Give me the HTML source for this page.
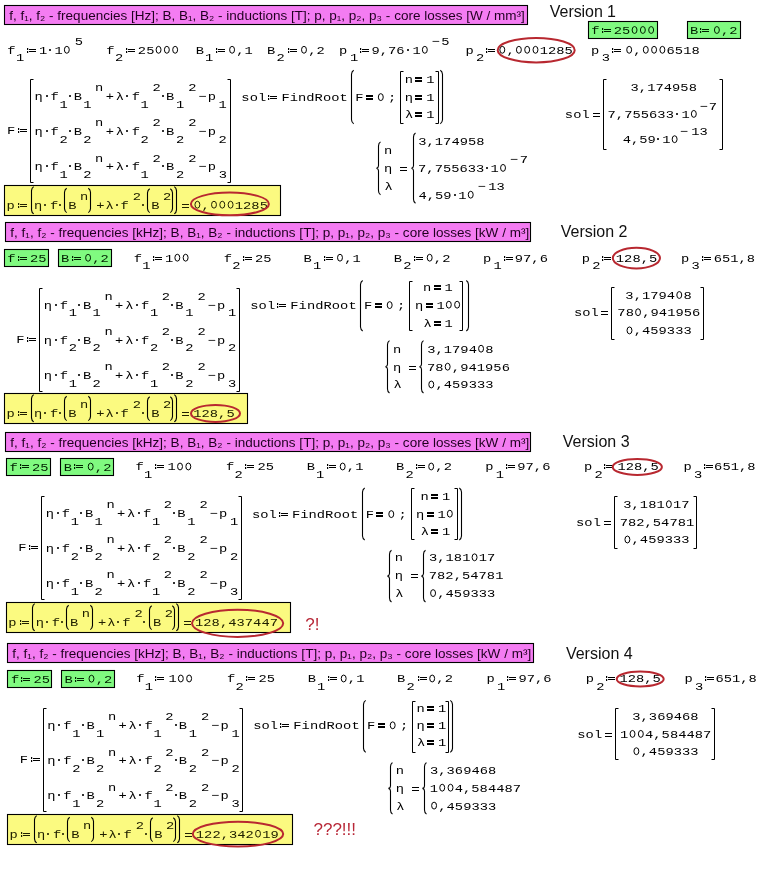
<!DOCTYPE html>
<html><head><meta charset="utf-8"><style>
html,body{margin:0;padding:0;background:#fff;width:761px;height:881px;overflow:hidden}
svg{display:block;will-change:transform}
.m{font-family:"Liberation Mono",monospace}
.s{font-family:"Liberation Sans",sans-serif}
</style></head><body>
<svg width="761" height="881" viewBox="0 0 761 881">
<rect width="761" height="881" fill="#fff"/>
<rect x="4.50" y="5.50" width="523.00" height="19.00" fill="#f47cf2" stroke="#000" stroke-width="1.10"/>
<text class="s" x="9.21" y="20.40" fill="#200020" font-size="13.50" textLength="515.5" lengthAdjust="spacing">f, f₁, f₂ - frequencies [Hz]; B, B₁, B₂ - inductions [T]; p, p₁, p₂, p₃ - core losses [W / mm³]</text>
<text class="s" x="549.83" y="16.60" fill="#111" font-size="16.00" textLength="66.2" lengthAdjust="spacing">Version 1</text>
<rect x="588.50" y="21.50" width="69.00" height="17.00" fill="#80fa80" stroke="#000" stroke-width="1.10"/>
<text class="m" transform="translate(0 33.90) scale(1 0.850)" x="591.27" y="0" fill="#002000" font-size="13.75" xml:space="preserve">f</text>
<rect x="602.00" y="28.00" width="1.20" height="2.00" fill="#002000"/>
<rect x="602.00" y="31.00" width="1.20" height="2.00" fill="#002000"/>
<rect x="604.00" y="29.00" width="7.00" height="1.00" fill="#002000"/>
<rect x="604.00" y="31.00" width="7.00" height="1.00" fill="#002000"/>
<text class="m" transform="translate(0 33.90) scale(1 0.850)" x="613.83 622.13 630.43 638.73 647.03" y="0" fill="#002000" font-size="13.75" xml:space="preserve">25   </text>
<ellipse cx="634.56" cy="30.00" rx="2.45" ry="3.45" fill="none" stroke="#002000" stroke-width="1.00"/>
<ellipse cx="642.86" cy="30.00" rx="2.45" ry="3.45" fill="none" stroke="#002000" stroke-width="1.00"/>
<ellipse cx="651.16" cy="30.00" rx="2.45" ry="3.45" fill="none" stroke="#002000" stroke-width="1.00"/>
<rect x="687.50" y="21.50" width="53.00" height="17.00" fill="#80fa80" stroke="#000" stroke-width="1.10"/>
<text class="m" transform="translate(0 33.90) scale(1 0.850)" x="689.91" y="0" fill="#002000" font-size="13.75" xml:space="preserve">B</text>
<rect x="700.00" y="28.00" width="1.20" height="2.00" fill="#002000"/>
<rect x="700.00" y="31.00" width="1.20" height="2.00" fill="#002000"/>
<rect x="702.00" y="29.00" width="7.00" height="1.00" fill="#002000"/>
<rect x="702.00" y="31.00" width="7.00" height="1.00" fill="#002000"/>
<text class="m" transform="translate(0 33.90) scale(1 0.850)" x="712.77 721.07 729.37" y="0" fill="#002000" font-size="13.75" xml:space="preserve"> ,2</text>
<ellipse cx="716.89" cy="30.00" rx="2.45" ry="3.45" fill="none" stroke="#002000" stroke-width="1.00"/>
<text class="m" transform="translate(0 53.70) scale(1 0.850)" x="7.17" y="0" fill="#000" font-size="13.75" xml:space="preserve">f</text>
<text class="m" transform="translate(0 61.40) scale(1 0.850)" x="16.01" y="0" fill="#000" font-size="13.75" xml:space="preserve">1</text>
<rect x="27.00" y="48.00" width="1.20" height="2.00" fill="#000"/>
<rect x="27.00" y="51.00" width="1.20" height="2.00" fill="#000"/>
<rect x="29.00" y="49.00" width="7.00" height="1.00" fill="#000"/>
<rect x="29.00" y="51.00" width="7.00" height="1.00" fill="#000"/>
<text class="m" transform="translate(0 53.70) scale(1 0.850)" x="39.01" y="0" fill="#000" font-size="13.75" xml:space="preserve">1</text>
<rect x="49" y="49" width="2" height="2" fill="#000" fill-opacity="0.8"/>
<text class="m" transform="translate(0 53.70) scale(1 0.850)" x="54.41 62.71" y="0" fill="#000" font-size="13.75" xml:space="preserve">1 </text>
<ellipse cx="66.83" cy="49.80" rx="2.45" ry="3.45" fill="none" stroke="#000" stroke-width="1.00"/>
<text class="m" transform="translate(0 45.00) scale(1 0.850)" x="74.64" y="0" fill="#000" font-size="13.75" xml:space="preserve">5</text>
<text class="m" transform="translate(0 53.70) scale(1 0.850)" x="106.37" y="0" fill="#000" font-size="13.75" xml:space="preserve">f</text>
<text class="m" transform="translate(0 61.40) scale(1 0.850)" x="114.93" y="0" fill="#000" font-size="13.75" xml:space="preserve">2</text>
<rect x="126.00" y="48.00" width="1.20" height="2.00" fill="#000"/>
<rect x="126.00" y="51.00" width="1.20" height="2.00" fill="#000"/>
<rect x="128.00" y="49.00" width="7.00" height="1.00" fill="#000"/>
<rect x="128.00" y="51.00" width="7.00" height="1.00" fill="#000"/>
<text class="m" transform="translate(0 53.70) scale(1 0.850)" x="137.83 146.13 154.43 162.73 171.03" y="0" fill="#000" font-size="13.75" xml:space="preserve">25   </text>
<ellipse cx="158.56" cy="49.80" rx="2.45" ry="3.45" fill="none" stroke="#000" stroke-width="1.00"/>
<ellipse cx="166.86" cy="49.80" rx="2.45" ry="3.45" fill="none" stroke="#000" stroke-width="1.00"/>
<ellipse cx="175.16" cy="49.80" rx="2.45" ry="3.45" fill="none" stroke="#000" stroke-width="1.00"/>
<text class="m" transform="translate(0 53.70) scale(1 0.850)" x="195.71" y="0" fill="#000" font-size="13.75" xml:space="preserve">B</text>
<text class="m" transform="translate(0 61.40) scale(1 0.850)" x="205.11" y="0" fill="#000" font-size="13.75" xml:space="preserve">1</text>
<rect x="216.00" y="48.00" width="1.20" height="2.00" fill="#000"/>
<rect x="216.00" y="51.00" width="1.20" height="2.00" fill="#000"/>
<rect x="218.00" y="49.00" width="7.00" height="1.00" fill="#000"/>
<rect x="218.00" y="51.00" width="7.00" height="1.00" fill="#000"/>
<text class="m" transform="translate(0 53.70) scale(1 0.850)" x="227.97 236.27 244.57" y="0" fill="#000" font-size="13.75" xml:space="preserve"> ,1</text>
<ellipse cx="232.09" cy="49.80" rx="2.45" ry="3.45" fill="none" stroke="#000" stroke-width="1.00"/>
<text class="m" transform="translate(0 53.70) scale(1 0.850)" x="267.11" y="0" fill="#000" font-size="13.75" xml:space="preserve">B</text>
<text class="m" transform="translate(0 61.40) scale(1 0.850)" x="276.53" y="0" fill="#000" font-size="13.75" xml:space="preserve">2</text>
<rect x="288.00" y="48.00" width="1.20" height="2.00" fill="#000"/>
<rect x="288.00" y="51.00" width="1.20" height="2.00" fill="#000"/>
<rect x="290.00" y="49.00" width="7.00" height="1.00" fill="#000"/>
<rect x="290.00" y="51.00" width="7.00" height="1.00" fill="#000"/>
<text class="m" transform="translate(0 53.70) scale(1 0.850)" x="299.87 308.17 316.47" y="0" fill="#000" font-size="13.75" xml:space="preserve"> ,2</text>
<ellipse cx="303.99" cy="49.80" rx="2.45" ry="3.45" fill="none" stroke="#000" stroke-width="1.00"/>
<text class="m" transform="translate(0 53.70) scale(1 0.850)" x="339.10" y="0" fill="#000" font-size="13.75" xml:space="preserve">p</text>
<text class="m" transform="translate(0 61.40) scale(1 0.850)" x="350.01" y="0" fill="#000" font-size="13.75" xml:space="preserve">1</text>
<rect x="360.00" y="48.00" width="1.20" height="2.00" fill="#000"/>
<rect x="360.00" y="51.00" width="1.20" height="2.00" fill="#000"/>
<rect x="362.00" y="49.00" width="7.00" height="1.00" fill="#000"/>
<rect x="362.00" y="51.00" width="7.00" height="1.00" fill="#000"/>
<text class="m" transform="translate(0 53.70) scale(1 0.850)" x="371.45 379.75 388.05 396.35" y="0" fill="#000" font-size="13.75" xml:space="preserve">9,76</text>
<rect x="407" y="49" width="2" height="2" fill="#000" fill-opacity="0.8"/>
<text class="m" transform="translate(0 53.70) scale(1 0.850)" x="412.41 420.71" y="0" fill="#000" font-size="13.75" xml:space="preserve">1 </text>
<ellipse cx="424.83" cy="49.80" rx="2.45" ry="3.45" fill="none" stroke="#000" stroke-width="1.00"/>
<text class="m" transform="translate(0 45.00) scale(1 0.850)" x="431.51" y="0" fill="#000" font-size="13.75" xml:space="preserve">−</text>
<text class="m" transform="translate(0 45.00) scale(1 0.850)" x="441.34" y="0" fill="#000" font-size="13.75" xml:space="preserve">5</text>
<text class="m" transform="translate(0 53.70) scale(1 0.850)" x="465.40" y="0" fill="#000" font-size="13.75" xml:space="preserve">p</text>
<text class="m" transform="translate(0 61.40) scale(1 0.850)" x="475.93" y="0" fill="#000" font-size="13.75" xml:space="preserve">2</text>
<rect x="486.00" y="48.00" width="1.20" height="2.00" fill="#000"/>
<rect x="486.00" y="51.00" width="1.20" height="2.00" fill="#000"/>
<rect x="488.00" y="49.00" width="7.00" height="1.00" fill="#000"/>
<rect x="488.00" y="51.00" width="7.00" height="1.00" fill="#000"/>
<text class="m" transform="translate(0 53.70) scale(1 0.850)" x="498.17 506.47 514.77 523.07 531.37 539.67 547.97 556.27 564.57" y="0" fill="#000" font-size="13.75" xml:space="preserve"> ,   1285</text>
<ellipse cx="502.29" cy="49.80" rx="2.45" ry="3.45" fill="none" stroke="#000" stroke-width="1.00"/>
<ellipse cx="518.89" cy="49.80" rx="2.45" ry="3.45" fill="none" stroke="#000" stroke-width="1.00"/>
<ellipse cx="527.19" cy="49.80" rx="2.45" ry="3.45" fill="none" stroke="#000" stroke-width="1.00"/>
<ellipse cx="535.49" cy="49.80" rx="2.45" ry="3.45" fill="none" stroke="#000" stroke-width="1.00"/>
<text class="m" transform="translate(0 53.70) scale(1 0.850)" x="591.10" y="0" fill="#000" font-size="13.75" xml:space="preserve">p</text>
<text class="m" transform="translate(0 61.40) scale(1 0.850)" x="601.74" y="0" fill="#000" font-size="13.75" xml:space="preserve">3</text>
<rect x="612.00" y="48.00" width="1.20" height="2.00" fill="#000"/>
<rect x="612.00" y="51.00" width="1.20" height="2.00" fill="#000"/>
<rect x="614.00" y="49.00" width="7.00" height="1.00" fill="#000"/>
<rect x="614.00" y="51.00" width="7.00" height="1.00" fill="#000"/>
<text class="m" transform="translate(0 53.70) scale(1 0.850)" x="625.07 633.37 641.67 649.97 658.27 666.57 674.87 683.17 691.47" y="0" fill="#000" font-size="13.75" xml:space="preserve"> ,   6518</text>
<ellipse cx="629.19" cy="49.80" rx="2.45" ry="3.45" fill="none" stroke="#000" stroke-width="1.00"/>
<ellipse cx="645.79" cy="49.80" rx="2.45" ry="3.45" fill="none" stroke="#000" stroke-width="1.00"/>
<ellipse cx="654.09" cy="49.80" rx="2.45" ry="3.45" fill="none" stroke="#000" stroke-width="1.00"/>
<ellipse cx="662.39" cy="49.80" rx="2.45" ry="3.45" fill="none" stroke="#000" stroke-width="1.00"/>
<ellipse cx="536.2" cy="50.2" rx="38.5" ry="12.2" fill="none" stroke="#b82830" stroke-width="2"/>
<text class="m" transform="translate(0 134.00) scale(1 0.850)" x="7.00" y="0" fill="#000" font-size="13.75" xml:space="preserve">F</text>
<rect x="18.00" y="128.00" width="1.20" height="2.00" fill="#000"/>
<rect x="18.00" y="131.00" width="1.20" height="2.00" fill="#000"/>
<rect x="20.00" y="129.00" width="7.00" height="1.00" fill="#000"/>
<rect x="20.00" y="131.00" width="7.00" height="1.00" fill="#000"/>
<path d="M33.5 79.5 H30.5 V182.5 H33.5" fill="none" stroke="#000" stroke-width="1.00"/>
<path d="M227.5 79.5 H230.5 V182.5 H227.5" fill="none" stroke="#000" stroke-width="1.00"/>
<text class="m" transform="translate(0 100.00) scale(1 0.850)" x="34.50" y="0" fill="#000" font-size="13.75" xml:space="preserve">η</text>
<rect x="46" y="95" width="2" height="2" fill="#000" fill-opacity="0.8"/>
<text class="m" transform="translate(0 100.00) scale(1 0.850)" x="50.47" y="0" fill="#000" font-size="13.75" xml:space="preserve">f</text>
<text class="m" transform="translate(0 107.70) scale(1 0.850)" x="59.41" y="0" fill="#000" font-size="13.75" xml:space="preserve">1</text>
<rect x="69" y="95" width="2" height="2" fill="#000" fill-opacity="0.8"/>
<text class="m" transform="translate(0 100.00) scale(1 0.850)" x="73.81" y="0" fill="#000" font-size="13.75" xml:space="preserve">B</text>
<text class="m" transform="translate(0 107.70) scale(1 0.850)" x="83.31" y="0" fill="#000" font-size="13.75" xml:space="preserve">1</text>
<text class="m" transform="translate(0 91.30) scale(1 0.850)" x="95.10" y="0" fill="#000" font-size="13.75" xml:space="preserve">n</text>
<text class="m" transform="translate(0 100.00) scale(1 0.850)" x="105.72" y="0" fill="#000" font-size="13.75" xml:space="preserve">+</text>
<text class="m" transform="translate(0 100.00) scale(1 0.850)" x="115.83" y="0" fill="#000" font-size="13.75" xml:space="preserve">λ</text>
<rect x="126" y="95" width="2" height="2" fill="#000" fill-opacity="0.8"/>
<text class="m" transform="translate(0 100.00) scale(1 0.850)" x="131.67" y="0" fill="#000" font-size="13.75" xml:space="preserve">f</text>
<text class="m" transform="translate(0 107.70) scale(1 0.850)" x="140.61" y="0" fill="#000" font-size="13.75" xml:space="preserve">1</text>
<text class="m" transform="translate(0 91.30) scale(1 0.850)" x="152.43" y="0" fill="#000" font-size="13.75" xml:space="preserve">2</text>
<rect x="162" y="95" width="2" height="2" fill="#000" fill-opacity="0.8"/>
<text class="m" transform="translate(0 100.00) scale(1 0.850)" x="166.01" y="0" fill="#000" font-size="13.75" xml:space="preserve">B</text>
<text class="m" transform="translate(0 107.70) scale(1 0.850)" x="175.91" y="0" fill="#000" font-size="13.75" xml:space="preserve">1</text>
<text class="m" transform="translate(0 91.30) scale(1 0.850)" x="188.23" y="0" fill="#000" font-size="13.75" xml:space="preserve">2</text>
<text class="m" transform="translate(0 100.00) scale(1 0.850)" x="198.31" y="0" fill="#000" font-size="13.75" xml:space="preserve">−</text>
<text class="m" transform="translate(0 100.00) scale(1 0.850)" x="207.80" y="0" fill="#000" font-size="13.75" xml:space="preserve">p</text>
<text class="m" transform="translate(0 107.70) scale(1 0.850)" x="218.61" y="0" fill="#000" font-size="13.75" xml:space="preserve">1</text>
<text class="m" transform="translate(0 135.10) scale(1 0.850)" x="34.50" y="0" fill="#000" font-size="13.75" xml:space="preserve">η</text>
<rect x="46" y="130" width="2" height="2" fill="#000" fill-opacity="0.8"/>
<text class="m" transform="translate(0 135.10) scale(1 0.850)" x="50.47" y="0" fill="#000" font-size="13.75" xml:space="preserve">f</text>
<text class="m" transform="translate(0 142.80) scale(1 0.850)" x="59.43" y="0" fill="#000" font-size="13.75" xml:space="preserve">2</text>
<rect x="69" y="130" width="2" height="2" fill="#000" fill-opacity="0.8"/>
<text class="m" transform="translate(0 135.10) scale(1 0.850)" x="73.81" y="0" fill="#000" font-size="13.75" xml:space="preserve">B</text>
<text class="m" transform="translate(0 142.80) scale(1 0.850)" x="83.33" y="0" fill="#000" font-size="13.75" xml:space="preserve">2</text>
<text class="m" transform="translate(0 126.40) scale(1 0.850)" x="95.10" y="0" fill="#000" font-size="13.75" xml:space="preserve">n</text>
<text class="m" transform="translate(0 135.10) scale(1 0.850)" x="105.72" y="0" fill="#000" font-size="13.75" xml:space="preserve">+</text>
<text class="m" transform="translate(0 135.10) scale(1 0.850)" x="115.83" y="0" fill="#000" font-size="13.75" xml:space="preserve">λ</text>
<rect x="126" y="130" width="2" height="2" fill="#000" fill-opacity="0.8"/>
<text class="m" transform="translate(0 135.10) scale(1 0.850)" x="131.67" y="0" fill="#000" font-size="13.75" xml:space="preserve">f</text>
<text class="m" transform="translate(0 142.80) scale(1 0.850)" x="140.63" y="0" fill="#000" font-size="13.75" xml:space="preserve">2</text>
<text class="m" transform="translate(0 126.40) scale(1 0.850)" x="152.43" y="0" fill="#000" font-size="13.75" xml:space="preserve">2</text>
<rect x="162" y="130" width="2" height="2" fill="#000" fill-opacity="0.8"/>
<text class="m" transform="translate(0 135.10) scale(1 0.850)" x="166.01" y="0" fill="#000" font-size="13.75" xml:space="preserve">B</text>
<text class="m" transform="translate(0 142.80) scale(1 0.850)" x="175.93" y="0" fill="#000" font-size="13.75" xml:space="preserve">2</text>
<text class="m" transform="translate(0 126.40) scale(1 0.850)" x="188.23" y="0" fill="#000" font-size="13.75" xml:space="preserve">2</text>
<text class="m" transform="translate(0 135.10) scale(1 0.850)" x="198.31" y="0" fill="#000" font-size="13.75" xml:space="preserve">−</text>
<text class="m" transform="translate(0 135.10) scale(1 0.850)" x="207.80" y="0" fill="#000" font-size="13.75" xml:space="preserve">p</text>
<text class="m" transform="translate(0 142.80) scale(1 0.850)" x="218.63" y="0" fill="#000" font-size="13.75" xml:space="preserve">2</text>
<text class="m" transform="translate(0 170.20) scale(1 0.850)" x="34.50" y="0" fill="#000" font-size="13.75" xml:space="preserve">η</text>
<rect x="46" y="165" width="2" height="2" fill="#000" fill-opacity="0.8"/>
<text class="m" transform="translate(0 170.20) scale(1 0.850)" x="50.47" y="0" fill="#000" font-size="13.75" xml:space="preserve">f</text>
<text class="m" transform="translate(0 177.90) scale(1 0.850)" x="59.41" y="0" fill="#000" font-size="13.75" xml:space="preserve">1</text>
<rect x="69" y="165" width="2" height="2" fill="#000" fill-opacity="0.8"/>
<text class="m" transform="translate(0 170.20) scale(1 0.850)" x="73.81" y="0" fill="#000" font-size="13.75" xml:space="preserve">B</text>
<text class="m" transform="translate(0 177.90) scale(1 0.850)" x="83.33" y="0" fill="#000" font-size="13.75" xml:space="preserve">2</text>
<text class="m" transform="translate(0 161.50) scale(1 0.850)" x="95.10" y="0" fill="#000" font-size="13.75" xml:space="preserve">n</text>
<text class="m" transform="translate(0 170.20) scale(1 0.850)" x="105.72" y="0" fill="#000" font-size="13.75" xml:space="preserve">+</text>
<text class="m" transform="translate(0 170.20) scale(1 0.850)" x="115.83" y="0" fill="#000" font-size="13.75" xml:space="preserve">λ</text>
<rect x="126" y="165" width="2" height="2" fill="#000" fill-opacity="0.8"/>
<text class="m" transform="translate(0 170.20) scale(1 0.850)" x="131.67" y="0" fill="#000" font-size="13.75" xml:space="preserve">f</text>
<text class="m" transform="translate(0 177.90) scale(1 0.850)" x="140.61" y="0" fill="#000" font-size="13.75" xml:space="preserve">1</text>
<text class="m" transform="translate(0 161.50) scale(1 0.850)" x="152.43" y="0" fill="#000" font-size="13.75" xml:space="preserve">2</text>
<rect x="162" y="165" width="2" height="2" fill="#000" fill-opacity="0.8"/>
<text class="m" transform="translate(0 170.20) scale(1 0.850)" x="166.01" y="0" fill="#000" font-size="13.75" xml:space="preserve">B</text>
<text class="m" transform="translate(0 177.90) scale(1 0.850)" x="175.93" y="0" fill="#000" font-size="13.75" xml:space="preserve">2</text>
<text class="m" transform="translate(0 161.50) scale(1 0.850)" x="188.23" y="0" fill="#000" font-size="13.75" xml:space="preserve">2</text>
<text class="m" transform="translate(0 170.20) scale(1 0.850)" x="198.31" y="0" fill="#000" font-size="13.75" xml:space="preserve">−</text>
<text class="m" transform="translate(0 170.20) scale(1 0.850)" x="207.80" y="0" fill="#000" font-size="13.75" xml:space="preserve">p</text>
<text class="m" transform="translate(0 177.90) scale(1 0.850)" x="218.74" y="0" fill="#000" font-size="13.75" xml:space="preserve">3</text>
<text class="m" transform="translate(0 100.60) scale(1 0.850)" x="241.38 249.68 257.98" y="0" fill="#000" font-size="13.75" xml:space="preserve">sol</text>
<rect x="268.00" y="95.00" width="1.20" height="2.00" fill="#000"/>
<rect x="268.00" y="98.00" width="1.20" height="2.00" fill="#000"/>
<rect x="270.00" y="96.00" width="7.00" height="1.00" fill="#000"/>
<rect x="270.00" y="98.00" width="7.00" height="1.00" fill="#000"/>
<text class="m" transform="translate(0 100.60) scale(1 0.850)" x="281.40 289.70 298.00 306.30 314.60 322.90 331.20 339.50" y="0" fill="#000" font-size="13.75" xml:space="preserve">FindRoot</text>
<path d="M353.7 70.2 Q351.7 71.4 351.5 74.2 V119.7 Q351.7 122.5 353.7 123.7" fill="none" stroke="#000" stroke-width="1.10"/>
<path d="M440.3 70.2 Q442.3 71.4 442.5 74.2 V119.7 Q442.3 122.5 440.3 123.7" fill="none" stroke="#000" stroke-width="1.10"/>
<text class="m" transform="translate(0 101.00) scale(1 0.850)" x="355.20" y="0" fill="#000" font-size="13.75" xml:space="preserve">F</text>
<rect x="366.00" y="95.00" width="7.00" height="2.00" fill="#000"/>
<rect x="366.00" y="98.00" width="7.00" height="2.00" fill="#000"/>
<ellipse cx="380.79" cy="97.10" rx="2.45" ry="3.45" fill="none" stroke="#000" stroke-width="1.00"/>
<text class="m" transform="translate(0 101.00) scale(1 0.850)" x="388.04" y="0" fill="#000" font-size="13.75" xml:space="preserve">;</text>
<path d="M403.5 71.5 H400.5 V123.5 H403.5" fill="none" stroke="#000" stroke-width="1.00"/>
<path d="M435.5 71.5 H438.5 V123.5 H435.5" fill="none" stroke="#000" stroke-width="1.00"/>
<text class="m" transform="translate(0 82.90) scale(1 0.850)" x="404.70" y="0" fill="#000" font-size="13.75" xml:space="preserve">n</text>
<rect x="415.00" y="77.00" width="7.00" height="2.00" fill="#000"/>
<rect x="415.00" y="80.00" width="7.00" height="2.00" fill="#000"/>
<text class="m" transform="translate(0 82.90) scale(1 0.850)" x="426.21" y="0" fill="#000" font-size="13.75" xml:space="preserve">1</text>
<text class="m" transform="translate(0 100.65) scale(1 0.850)" x="404.70" y="0" fill="#000" font-size="13.75" xml:space="preserve">η</text>
<rect x="415.00" y="95.00" width="7.00" height="2.00" fill="#000"/>
<rect x="415.00" y="98.00" width="7.00" height="2.00" fill="#000"/>
<text class="m" transform="translate(0 100.65) scale(1 0.850)" x="426.21" y="0" fill="#000" font-size="13.75" xml:space="preserve">1</text>
<text class="m" transform="translate(0 118.40) scale(1 0.850)" x="405.13" y="0" fill="#000" font-size="13.75" xml:space="preserve">λ</text>
<rect x="415.00" y="112.00" width="7.00" height="2.00" fill="#000"/>
<rect x="415.00" y="115.00" width="7.00" height="2.00" fill="#000"/>
<text class="m" transform="translate(0 118.40) scale(1 0.850)" x="426.21" y="0" fill="#000" font-size="13.75" xml:space="preserve">1</text>
<path d="M380.5 141.9 Q378.5 143.1 378.5 145.9 V165.8 Q378.5 167.8 376.5 168.3 Q378.5 168.8 378.5 170.8 V190.7 Q378.5 193.5 380.5 194.7" fill="none" stroke="#000" stroke-width="1.10"/>
<text class="m" transform="translate(0 153.90) scale(1 0.850)" x="384.10" y="0" fill="#000" font-size="13.75" xml:space="preserve">n</text>
<text class="m" transform="translate(0 171.70) scale(1 0.850)" x="384.10" y="0" fill="#000" font-size="13.75" xml:space="preserve">η</text>
<text class="m" transform="translate(0 189.60) scale(1 0.850)" x="384.53" y="0" fill="#000" font-size="13.75" xml:space="preserve">λ</text>
<rect x="400.00" y="167.00" width="7.00" height="1.00" fill="#000"/>
<rect x="400.00" y="170.00" width="7.00" height="1.00" fill="#000"/>
<path d="M415.5 133.0 Q413.5 134.2 413.5 137.0 V165.7 Q413.5 167.7 411.5 168.2 Q413.5 168.7 413.5 170.7 V199.3 Q413.5 202.1 415.5 203.3" fill="none" stroke="#000" stroke-width="1.10"/>
<text class="m" transform="translate(0 145.00) scale(1 0.850)" x="418.24 426.54 434.84 443.14 451.44 459.74 468.04 476.34" y="0" fill="#000" font-size="13.75" xml:space="preserve">3,174958</text>
<text class="m" transform="translate(0 171.80) scale(1 0.850)" x="418.04 426.34 434.64 442.94 451.24 459.54 467.84 476.14" y="0" fill="#000" font-size="13.75" xml:space="preserve">7,755633</text>
<rect x="486" y="167" width="2" height="2" fill="#000" fill-opacity="0.8"/>
<text class="m" transform="translate(0 171.80) scale(1 0.850)" x="490.61 498.91" y="0" fill="#000" font-size="13.75" xml:space="preserve">1 </text>
<ellipse cx="503.03" cy="167.90" rx="2.45" ry="3.45" fill="none" stroke="#000" stroke-width="1.00"/>
<text class="m" transform="translate(0 163.10) scale(1 0.850)" x="509.81" y="0" fill="#000" font-size="13.75" xml:space="preserve">−</text>
<text class="m" transform="translate(0 163.10) scale(1 0.850)" x="519.74" y="0" fill="#000" font-size="13.75" xml:space="preserve">7</text>
<text class="m" transform="translate(0 198.60) scale(1 0.850)" x="418.41 426.71 435.01 443.31" y="0" fill="#000" font-size="13.75" xml:space="preserve">4,59</text>
<rect x="454" y="194" width="2" height="2" fill="#000" fill-opacity="0.8"/>
<text class="m" transform="translate(0 198.60) scale(1 0.850)" x="458.31 466.61" y="0" fill="#000" font-size="13.75" xml:space="preserve">1 </text>
<ellipse cx="470.73" cy="194.70" rx="2.45" ry="3.45" fill="none" stroke="#000" stroke-width="1.00"/>
<text class="m" transform="translate(0 190.00) scale(1 0.850)" x="477.41" y="0" fill="#000" font-size="13.75" xml:space="preserve">−</text>
<text class="m" transform="translate(0 190.00) scale(1 0.850)" x="488.31 496.61" y="0" fill="#000" font-size="13.75" xml:space="preserve">13</text>
<text class="m" transform="translate(0 117.80) scale(1 0.850)" x="564.88 573.18 581.48" y="0" fill="#000" font-size="13.75" xml:space="preserve">sol</text>
<rect x="593.00" y="113.00" width="7.00" height="1.00" fill="#000"/>
<rect x="593.00" y="116.00" width="7.00" height="1.00" fill="#000"/>
<path d="M606.5 79.5 H603.5 V149.5 H606.5" fill="none" stroke="#000" stroke-width="1.00"/>
<path d="M719.5 79.5 H722.5 V149.5 H719.5" fill="none" stroke="#000" stroke-width="1.00"/>
<text class="m" transform="translate(0 90.60) scale(1 0.850)" x="630.54 638.84 647.14 655.44 663.74 672.04 680.34 688.64" y="0" fill="#000" font-size="13.75" xml:space="preserve">3,174958</text>
<text class="m" transform="translate(0 117.80) scale(1 0.850)" x="607.54 615.84 624.14 632.44 640.74 649.04 657.34 665.64" y="0" fill="#000" font-size="13.75" xml:space="preserve">7,755633</text>
<rect x="676" y="113" width="2" height="2" fill="#000" fill-opacity="0.8"/>
<text class="m" transform="translate(0 117.80) scale(1 0.850)" x="681.41 689.71" y="0" fill="#000" font-size="13.75" xml:space="preserve">1 </text>
<ellipse cx="693.83" cy="113.90" rx="2.45" ry="3.45" fill="none" stroke="#000" stroke-width="1.00"/>
<text class="m" transform="translate(0 109.60) scale(1 0.850)" x="699.41" y="0" fill="#000" font-size="13.75" xml:space="preserve">−</text>
<text class="m" transform="translate(0 109.60) scale(1 0.850)" x="708.74" y="0" fill="#000" font-size="13.75" xml:space="preserve">7</text>
<text class="m" transform="translate(0 143.10) scale(1 0.850)" x="622.71 631.01 639.31 647.61" y="0" fill="#000" font-size="13.75" xml:space="preserve">4,59</text>
<rect x="657" y="138" width="2" height="2" fill="#000" fill-opacity="0.8"/>
<text class="m" transform="translate(0 143.10) scale(1 0.850)" x="662.21 670.51" y="0" fill="#000" font-size="13.75" xml:space="preserve">1 </text>
<ellipse cx="674.63" cy="139.20" rx="2.45" ry="3.45" fill="none" stroke="#000" stroke-width="1.00"/>
<text class="m" transform="translate(0 135.30) scale(1 0.850)" x="679.81" y="0" fill="#000" font-size="13.75" xml:space="preserve">−</text>
<text class="m" transform="translate(0 135.30) scale(1 0.850)" x="691.21 699.51" y="0" fill="#000" font-size="13.75" xml:space="preserve">13</text>
<rect x="4.50" y="185.50" width="276.00" height="30.00" fill="#fbfa80" stroke="#000" stroke-width="1.10"/>
<text class="m" transform="translate(0 208.60) scale(1 0.850)" x="6.40" y="0" fill="#202000" font-size="13.75" xml:space="preserve">p</text>
<rect x="18.00" y="203.00" width="1.20" height="2.00" fill="#202000"/>
<rect x="18.00" y="206.00" width="1.20" height="2.00" fill="#202000"/>
<rect x="20.00" y="204.00" width="7.00" height="1.00" fill="#202000"/>
<rect x="20.00" y="206.00" width="7.00" height="1.00" fill="#202000"/>
<path d="M33.7 186.6 Q31.7 187.8 31.5 190.6 V209.9 Q31.7 212.7 33.7 213.9" fill="none" stroke="#000" stroke-width="1.10"/>
<text class="m" transform="translate(0 208.60) scale(1 0.850)" x="34.00" y="0" fill="#202000" font-size="13.75" xml:space="preserve">η</text>
<rect x="44" y="204" width="2" height="2" fill="#202000" fill-opacity="0.8"/>
<text class="m" transform="translate(0 208.60) scale(1 0.850)" x="50.07" y="0" fill="#202000" font-size="13.75" xml:space="preserve">f</text>
<rect x="59" y="204" width="2" height="2" fill="#202000" fill-opacity="0.8"/>
<path d="M66.7 188.3 Q64.7 189.5 64.5 192.3 V208.6 Q64.7 211.4 66.7 212.6" fill="none" stroke="#000" stroke-width="1.10"/>
<text class="m" transform="translate(0 208.60) scale(1 0.850)" x="68.31" y="0" fill="#202000" font-size="13.75" xml:space="preserve">B</text>
<text class="m" transform="translate(0 199.90) scale(1 0.850)" x="80.00" y="0" fill="#202000" font-size="13.75" xml:space="preserve">n</text>
<path d="M88.3 188.3 Q90.3 189.5 90.5 192.3 V208.6 Q90.3 211.4 88.3 212.6" fill="none" stroke="#000" stroke-width="1.10"/>
<text class="m" transform="translate(0 208.60) scale(1 0.850)" x="96.22" y="0" fill="#202000" font-size="13.75" xml:space="preserve">+</text>
<text class="m" transform="translate(0 208.60) scale(1 0.850)" x="105.43" y="0" fill="#202000" font-size="13.75" xml:space="preserve">λ</text>
<rect x="116" y="204" width="2" height="2" fill="#202000" fill-opacity="0.8"/>
<text class="m" transform="translate(0 208.60) scale(1 0.850)" x="120.47" y="0" fill="#202000" font-size="13.75" xml:space="preserve">f</text>
<text class="m" transform="translate(0 199.90) scale(1 0.850)" x="132.73" y="0" fill="#202000" font-size="13.75" xml:space="preserve">2</text>
<rect x="142" y="204" width="2" height="2" fill="#202000" fill-opacity="0.8"/>
<path d="M149.7 188.8 Q147.7 190.0 147.5 192.8 V208.6 Q147.7 211.4 149.7 212.6" fill="none" stroke="#000" stroke-width="1.10"/>
<text class="m" transform="translate(0 208.60) scale(1 0.850)" x="151.31" y="0" fill="#202000" font-size="13.75" xml:space="preserve">B</text>
<text class="m" transform="translate(0 199.90) scale(1 0.850)" x="163.03" y="0" fill="#202000" font-size="13.75" xml:space="preserve">2</text>
<path d="M170.3 188.8 Q172.3 190.0 172.5 192.8 V208.6 Q172.3 211.4 170.3 212.6" fill="none" stroke="#000" stroke-width="1.10"/>
<path d="M174.3 186.6 Q176.3 187.8 176.5 190.6 V209.9 Q176.3 212.7 174.3 213.9" fill="none" stroke="#000" stroke-width="1.10"/>
<rect x="182.00" y="204.00" width="7.00" height="1.00" fill="#202000"/>
<rect x="182.00" y="207.00" width="7.00" height="1.00" fill="#202000"/>
<text class="m" transform="translate(0 208.60) scale(1 0.850)" x="193.27 201.57 209.87 218.17 226.47 234.77 243.07 251.37 259.67" y="0" fill="#202000" font-size="13.75" xml:space="preserve"> ,   1285</text>
<ellipse cx="197.39" cy="204.70" rx="2.45" ry="3.45" fill="none" stroke="#202000" stroke-width="1.00"/>
<ellipse cx="213.99" cy="204.70" rx="2.45" ry="3.45" fill="none" stroke="#202000" stroke-width="1.00"/>
<ellipse cx="222.29" cy="204.70" rx="2.45" ry="3.45" fill="none" stroke="#202000" stroke-width="1.00"/>
<ellipse cx="230.59" cy="204.70" rx="2.45" ry="3.45" fill="none" stroke="#202000" stroke-width="1.00"/>
<ellipse cx="229.9" cy="203.9" rx="39.0" ry="11.4" fill="none" stroke="#b82830" stroke-width="2"/>
<rect x="5.50" y="222.50" width="525.00" height="19.00" fill="#f47cf2" stroke="#000" stroke-width="1.10"/>
<text class="s" x="10.21" y="237.40" fill="#200020" font-size="13.50" textLength="519.0" lengthAdjust="spacing">f, f₁, f₂ - frequencies [kHz]; B, B₁, B₂ - inductions [T]; p, p₁, p₂, p₃ - core losses [kW / m³]</text>
<text class="s" x="560.73" y="236.80" fill="#111" font-size="16.00">Version 2</text>
<rect x="4.50" y="249.50" width="44.00" height="17.00" fill="#80fa80" stroke="#000" stroke-width="1.10"/>
<text class="m" transform="translate(0 261.70) scale(1 0.850)" x="7.37" y="0" fill="#002000" font-size="13.75" xml:space="preserve">f</text>
<rect x="18.00" y="256.00" width="1.20" height="2.00" fill="#002000"/>
<rect x="18.00" y="259.00" width="1.20" height="2.00" fill="#002000"/>
<rect x="20.00" y="257.00" width="7.00" height="1.00" fill="#002000"/>
<rect x="20.00" y="259.00" width="7.00" height="1.00" fill="#002000"/>
<text class="m" transform="translate(0 261.70) scale(1 0.850)" x="29.93 38.23" y="0" fill="#002000" font-size="13.75" xml:space="preserve">25</text>
<rect x="58.50" y="249.50" width="53.00" height="17.00" fill="#80fa80" stroke="#000" stroke-width="1.10"/>
<text class="m" transform="translate(0 261.70) scale(1 0.850)" x="61.11" y="0" fill="#002000" font-size="13.75" xml:space="preserve">B</text>
<rect x="72.00" y="256.00" width="1.20" height="2.00" fill="#002000"/>
<rect x="72.00" y="259.00" width="1.20" height="2.00" fill="#002000"/>
<rect x="74.00" y="257.00" width="7.00" height="1.00" fill="#002000"/>
<rect x="74.00" y="259.00" width="7.00" height="1.00" fill="#002000"/>
<text class="m" transform="translate(0 261.70) scale(1 0.850)" x="83.97 92.27 100.57" y="0" fill="#002000" font-size="13.75" xml:space="preserve"> ,2</text>
<ellipse cx="88.09" cy="257.80" rx="2.45" ry="3.45" fill="none" stroke="#002000" stroke-width="1.00"/>
<text class="m" transform="translate(0 261.60) scale(1 0.850)" x="133.77" y="0" fill="#000" font-size="13.75" xml:space="preserve">f</text>
<text class="m" transform="translate(0 269.30) scale(1 0.850)" x="142.31" y="0" fill="#000" font-size="13.75" xml:space="preserve">1</text>
<rect x="153.00" y="256.00" width="1.20" height="2.00" fill="#000"/>
<rect x="153.00" y="259.00" width="1.20" height="2.00" fill="#000"/>
<rect x="155.00" y="257.00" width="7.00" height="1.00" fill="#000"/>
<rect x="155.00" y="259.00" width="7.00" height="1.00" fill="#000"/>
<text class="m" transform="translate(0 261.60) scale(1 0.850)" x="164.91 173.21 181.51" y="0" fill="#000" font-size="13.75" xml:space="preserve">1  </text>
<ellipse cx="177.33" cy="257.70" rx="2.45" ry="3.45" fill="none" stroke="#000" stroke-width="1.00"/>
<ellipse cx="185.63" cy="257.70" rx="2.45" ry="3.45" fill="none" stroke="#000" stroke-width="1.00"/>
<text class="m" transform="translate(0 261.60) scale(1 0.850)" x="223.77" y="0" fill="#000" font-size="13.75" xml:space="preserve">f</text>
<text class="m" transform="translate(0 269.30) scale(1 0.850)" x="232.33" y="0" fill="#000" font-size="13.75" xml:space="preserve">2</text>
<rect x="243.00" y="256.00" width="1.20" height="2.00" fill="#000"/>
<rect x="243.00" y="259.00" width="1.20" height="2.00" fill="#000"/>
<rect x="245.00" y="257.00" width="7.00" height="1.00" fill="#000"/>
<rect x="245.00" y="259.00" width="7.00" height="1.00" fill="#000"/>
<text class="m" transform="translate(0 261.60) scale(1 0.850)" x="255.03 263.33" y="0" fill="#000" font-size="13.75" xml:space="preserve">25</text>
<text class="m" transform="translate(0 261.60) scale(1 0.850)" x="303.61" y="0" fill="#000" font-size="13.75" xml:space="preserve">B</text>
<text class="m" transform="translate(0 269.30) scale(1 0.850)" x="313.01" y="0" fill="#000" font-size="13.75" xml:space="preserve">1</text>
<rect x="324.00" y="256.00" width="1.20" height="2.00" fill="#000"/>
<rect x="324.00" y="259.00" width="1.20" height="2.00" fill="#000"/>
<rect x="326.00" y="257.00" width="7.00" height="1.00" fill="#000"/>
<rect x="326.00" y="259.00" width="7.00" height="1.00" fill="#000"/>
<text class="m" transform="translate(0 261.60) scale(1 0.850)" x="335.87 344.17 352.47" y="0" fill="#000" font-size="13.75" xml:space="preserve"> ,1</text>
<ellipse cx="339.99" cy="257.70" rx="2.45" ry="3.45" fill="none" stroke="#000" stroke-width="1.00"/>
<text class="m" transform="translate(0 261.60) scale(1 0.850)" x="393.81" y="0" fill="#000" font-size="13.75" xml:space="preserve">B</text>
<text class="m" transform="translate(0 269.30) scale(1 0.850)" x="403.23" y="0" fill="#000" font-size="13.75" xml:space="preserve">2</text>
<rect x="414.00" y="256.00" width="1.20" height="2.00" fill="#000"/>
<rect x="414.00" y="259.00" width="1.20" height="2.00" fill="#000"/>
<rect x="416.00" y="257.00" width="7.00" height="1.00" fill="#000"/>
<rect x="416.00" y="259.00" width="7.00" height="1.00" fill="#000"/>
<text class="m" transform="translate(0 261.60) scale(1 0.850)" x="425.57 433.87 442.17" y="0" fill="#000" font-size="13.75" xml:space="preserve"> ,2</text>
<ellipse cx="429.69" cy="257.70" rx="2.45" ry="3.45" fill="none" stroke="#000" stroke-width="1.00"/>
<text class="m" transform="translate(0 261.60) scale(1 0.850)" x="483.00" y="0" fill="#000" font-size="13.75" xml:space="preserve">p</text>
<text class="m" transform="translate(0 269.30) scale(1 0.850)" x="493.51" y="0" fill="#000" font-size="13.75" xml:space="preserve">1</text>
<rect x="504.00" y="256.00" width="1.20" height="2.00" fill="#000"/>
<rect x="504.00" y="259.00" width="1.20" height="2.00" fill="#000"/>
<rect x="506.00" y="257.00" width="7.00" height="1.00" fill="#000"/>
<rect x="506.00" y="259.00" width="7.00" height="1.00" fill="#000"/>
<text class="m" transform="translate(0 261.60) scale(1 0.850)" x="514.75 523.05 531.35 539.65" y="0" fill="#000" font-size="13.75" xml:space="preserve">97,6</text>
<text class="m" transform="translate(0 261.60) scale(1 0.850)" x="581.80" y="0" fill="#000" font-size="13.75" xml:space="preserve">p</text>
<text class="m" transform="translate(0 269.30) scale(1 0.850)" x="592.33" y="0" fill="#000" font-size="13.75" xml:space="preserve">2</text>
<rect x="602.00" y="256.00" width="1.20" height="2.00" fill="#000"/>
<rect x="602.00" y="259.00" width="1.20" height="2.00" fill="#000"/>
<rect x="604.00" y="257.00" width="7.00" height="1.00" fill="#000"/>
<rect x="604.00" y="259.00" width="7.00" height="1.00" fill="#000"/>
<text class="m" transform="translate(0 261.60) scale(1 0.850)" x="615.81 624.11 632.41 640.71 649.01" y="0" fill="#000" font-size="13.75" xml:space="preserve">128,5</text>
<text class="m" transform="translate(0 261.60) scale(1 0.850)" x="680.90" y="0" fill="#000" font-size="13.75" xml:space="preserve">p</text>
<text class="m" transform="translate(0 269.30) scale(1 0.850)" x="691.54" y="0" fill="#000" font-size="13.75" xml:space="preserve">3</text>
<rect x="702.00" y="256.00" width="1.20" height="2.00" fill="#000"/>
<rect x="702.00" y="259.00" width="1.20" height="2.00" fill="#000"/>
<rect x="704.00" y="257.00" width="7.00" height="1.00" fill="#000"/>
<rect x="704.00" y="259.00" width="7.00" height="1.00" fill="#000"/>
<text class="m" transform="translate(0 261.60) scale(1 0.850)" x="713.69 721.99 730.29 738.59 746.89" y="0" fill="#000" font-size="13.75" xml:space="preserve">651,8</text>
<ellipse cx="636.4" cy="258.1" rx="23.6" ry="10.3" fill="none" stroke="#b82830" stroke-width="2"/>
<text class="m" transform="translate(0 342.60) scale(1 0.850)" x="16.30" y="0" fill="#000" font-size="13.75" xml:space="preserve">F</text>
<rect x="27.00" y="337.00" width="1.20" height="2.00" fill="#000"/>
<rect x="27.00" y="340.00" width="1.20" height="2.00" fill="#000"/>
<rect x="29.00" y="338.00" width="7.00" height="1.00" fill="#000"/>
<rect x="29.00" y="340.00" width="7.00" height="1.00" fill="#000"/>
<path d="M42.5 288.5 H39.5 V391.5 H42.5" fill="none" stroke="#000" stroke-width="1.00"/>
<path d="M236.5 288.5 H239.5 V391.5 H236.5" fill="none" stroke="#000" stroke-width="1.00"/>
<text class="m" transform="translate(0 308.60) scale(1 0.850)" x="43.80" y="0" fill="#000" font-size="13.75" xml:space="preserve">η</text>
<rect x="55" y="304" width="2" height="2" fill="#000" fill-opacity="0.8"/>
<text class="m" transform="translate(0 308.60) scale(1 0.850)" x="59.77" y="0" fill="#000" font-size="13.75" xml:space="preserve">f</text>
<text class="m" transform="translate(0 316.30) scale(1 0.850)" x="68.71" y="0" fill="#000" font-size="13.75" xml:space="preserve">1</text>
<rect x="78" y="304" width="2" height="2" fill="#000" fill-opacity="0.8"/>
<text class="m" transform="translate(0 308.60) scale(1 0.850)" x="83.11" y="0" fill="#000" font-size="13.75" xml:space="preserve">B</text>
<text class="m" transform="translate(0 316.30) scale(1 0.850)" x="92.61" y="0" fill="#000" font-size="13.75" xml:space="preserve">1</text>
<text class="m" transform="translate(0 299.90) scale(1 0.850)" x="104.40" y="0" fill="#000" font-size="13.75" xml:space="preserve">n</text>
<text class="m" transform="translate(0 308.60) scale(1 0.850)" x="115.02" y="0" fill="#000" font-size="13.75" xml:space="preserve">+</text>
<text class="m" transform="translate(0 308.60) scale(1 0.850)" x="125.13" y="0" fill="#000" font-size="13.75" xml:space="preserve">λ</text>
<rect x="136" y="304" width="2" height="2" fill="#000" fill-opacity="0.8"/>
<text class="m" transform="translate(0 308.60) scale(1 0.850)" x="140.97" y="0" fill="#000" font-size="13.75" xml:space="preserve">f</text>
<text class="m" transform="translate(0 316.30) scale(1 0.850)" x="149.91" y="0" fill="#000" font-size="13.75" xml:space="preserve">1</text>
<text class="m" transform="translate(0 299.90) scale(1 0.850)" x="161.73" y="0" fill="#000" font-size="13.75" xml:space="preserve">2</text>
<rect x="171" y="304" width="2" height="2" fill="#000" fill-opacity="0.8"/>
<text class="m" transform="translate(0 308.60) scale(1 0.850)" x="175.31" y="0" fill="#000" font-size="13.75" xml:space="preserve">B</text>
<text class="m" transform="translate(0 316.30) scale(1 0.850)" x="185.21" y="0" fill="#000" font-size="13.75" xml:space="preserve">1</text>
<text class="m" transform="translate(0 299.90) scale(1 0.850)" x="197.53" y="0" fill="#000" font-size="13.75" xml:space="preserve">2</text>
<text class="m" transform="translate(0 308.60) scale(1 0.850)" x="207.61" y="0" fill="#000" font-size="13.75" xml:space="preserve">−</text>
<text class="m" transform="translate(0 308.60) scale(1 0.850)" x="217.10" y="0" fill="#000" font-size="13.75" xml:space="preserve">p</text>
<text class="m" transform="translate(0 316.30) scale(1 0.850)" x="227.91" y="0" fill="#000" font-size="13.75" xml:space="preserve">1</text>
<text class="m" transform="translate(0 343.70) scale(1 0.850)" x="43.80" y="0" fill="#000" font-size="13.75" xml:space="preserve">η</text>
<rect x="55" y="339" width="2" height="2" fill="#000" fill-opacity="0.8"/>
<text class="m" transform="translate(0 343.70) scale(1 0.850)" x="59.77" y="0" fill="#000" font-size="13.75" xml:space="preserve">f</text>
<text class="m" transform="translate(0 351.40) scale(1 0.850)" x="68.73" y="0" fill="#000" font-size="13.75" xml:space="preserve">2</text>
<rect x="78" y="339" width="2" height="2" fill="#000" fill-opacity="0.8"/>
<text class="m" transform="translate(0 343.70) scale(1 0.850)" x="83.11" y="0" fill="#000" font-size="13.75" xml:space="preserve">B</text>
<text class="m" transform="translate(0 351.40) scale(1 0.850)" x="92.63" y="0" fill="#000" font-size="13.75" xml:space="preserve">2</text>
<text class="m" transform="translate(0 335.00) scale(1 0.850)" x="104.40" y="0" fill="#000" font-size="13.75" xml:space="preserve">n</text>
<text class="m" transform="translate(0 343.70) scale(1 0.850)" x="115.02" y="0" fill="#000" font-size="13.75" xml:space="preserve">+</text>
<text class="m" transform="translate(0 343.70) scale(1 0.850)" x="125.13" y="0" fill="#000" font-size="13.75" xml:space="preserve">λ</text>
<rect x="136" y="339" width="2" height="2" fill="#000" fill-opacity="0.8"/>
<text class="m" transform="translate(0 343.70) scale(1 0.850)" x="140.97" y="0" fill="#000" font-size="13.75" xml:space="preserve">f</text>
<text class="m" transform="translate(0 351.40) scale(1 0.850)" x="149.93" y="0" fill="#000" font-size="13.75" xml:space="preserve">2</text>
<text class="m" transform="translate(0 335.00) scale(1 0.850)" x="161.73" y="0" fill="#000" font-size="13.75" xml:space="preserve">2</text>
<rect x="171" y="339" width="2" height="2" fill="#000" fill-opacity="0.8"/>
<text class="m" transform="translate(0 343.70) scale(1 0.850)" x="175.31" y="0" fill="#000" font-size="13.75" xml:space="preserve">B</text>
<text class="m" transform="translate(0 351.40) scale(1 0.850)" x="185.23" y="0" fill="#000" font-size="13.75" xml:space="preserve">2</text>
<text class="m" transform="translate(0 335.00) scale(1 0.850)" x="197.53" y="0" fill="#000" font-size="13.75" xml:space="preserve">2</text>
<text class="m" transform="translate(0 343.70) scale(1 0.850)" x="207.61" y="0" fill="#000" font-size="13.75" xml:space="preserve">−</text>
<text class="m" transform="translate(0 343.70) scale(1 0.850)" x="217.10" y="0" fill="#000" font-size="13.75" xml:space="preserve">p</text>
<text class="m" transform="translate(0 351.40) scale(1 0.850)" x="227.93" y="0" fill="#000" font-size="13.75" xml:space="preserve">2</text>
<text class="m" transform="translate(0 378.80) scale(1 0.850)" x="43.80" y="0" fill="#000" font-size="13.75" xml:space="preserve">η</text>
<rect x="55" y="374" width="2" height="2" fill="#000" fill-opacity="0.8"/>
<text class="m" transform="translate(0 378.80) scale(1 0.850)" x="59.77" y="0" fill="#000" font-size="13.75" xml:space="preserve">f</text>
<text class="m" transform="translate(0 386.50) scale(1 0.850)" x="68.71" y="0" fill="#000" font-size="13.75" xml:space="preserve">1</text>
<rect x="78" y="374" width="2" height="2" fill="#000" fill-opacity="0.8"/>
<text class="m" transform="translate(0 378.80) scale(1 0.850)" x="83.11" y="0" fill="#000" font-size="13.75" xml:space="preserve">B</text>
<text class="m" transform="translate(0 386.50) scale(1 0.850)" x="92.63" y="0" fill="#000" font-size="13.75" xml:space="preserve">2</text>
<text class="m" transform="translate(0 370.10) scale(1 0.850)" x="104.40" y="0" fill="#000" font-size="13.75" xml:space="preserve">n</text>
<text class="m" transform="translate(0 378.80) scale(1 0.850)" x="115.02" y="0" fill="#000" font-size="13.75" xml:space="preserve">+</text>
<text class="m" transform="translate(0 378.80) scale(1 0.850)" x="125.13" y="0" fill="#000" font-size="13.75" xml:space="preserve">λ</text>
<rect x="136" y="374" width="2" height="2" fill="#000" fill-opacity="0.8"/>
<text class="m" transform="translate(0 378.80) scale(1 0.850)" x="140.97" y="0" fill="#000" font-size="13.75" xml:space="preserve">f</text>
<text class="m" transform="translate(0 386.50) scale(1 0.850)" x="149.91" y="0" fill="#000" font-size="13.75" xml:space="preserve">1</text>
<text class="m" transform="translate(0 370.10) scale(1 0.850)" x="161.73" y="0" fill="#000" font-size="13.75" xml:space="preserve">2</text>
<rect x="171" y="374" width="2" height="2" fill="#000" fill-opacity="0.8"/>
<text class="m" transform="translate(0 378.80) scale(1 0.850)" x="175.31" y="0" fill="#000" font-size="13.75" xml:space="preserve">B</text>
<text class="m" transform="translate(0 386.50) scale(1 0.850)" x="185.23" y="0" fill="#000" font-size="13.75" xml:space="preserve">2</text>
<text class="m" transform="translate(0 370.10) scale(1 0.850)" x="197.53" y="0" fill="#000" font-size="13.75" xml:space="preserve">2</text>
<text class="m" transform="translate(0 378.80) scale(1 0.850)" x="207.61" y="0" fill="#000" font-size="13.75" xml:space="preserve">−</text>
<text class="m" transform="translate(0 378.80) scale(1 0.850)" x="217.10" y="0" fill="#000" font-size="13.75" xml:space="preserve">p</text>
<text class="m" transform="translate(0 386.50) scale(1 0.850)" x="228.04" y="0" fill="#000" font-size="13.75" xml:space="preserve">3</text>
<text class="m" transform="translate(0 308.60) scale(1 0.850)" x="250.28 258.58 266.88" y="0" fill="#000" font-size="13.75" xml:space="preserve">sol</text>
<rect x="277.00" y="303.00" width="1.20" height="2.00" fill="#000"/>
<rect x="277.00" y="306.00" width="1.20" height="2.00" fill="#000"/>
<rect x="279.00" y="304.00" width="7.00" height="1.00" fill="#000"/>
<rect x="279.00" y="306.00" width="7.00" height="1.00" fill="#000"/>
<text class="m" transform="translate(0 308.60) scale(1 0.850)" x="290.30 298.60 306.90 315.20 323.50 331.80 340.10 348.40" y="0" fill="#000" font-size="13.75" xml:space="preserve">FindRoot</text>
<path d="M362.7 280.5 Q360.7 281.7 360.5 284.5 V327.0 Q360.7 329.8 362.7 331.0" fill="none" stroke="#000" stroke-width="1.10"/>
<path d="M466.3 280.5 Q468.3 281.7 468.5 284.5 V327.0 Q468.3 329.8 466.3 331.0" fill="none" stroke="#000" stroke-width="1.10"/>
<text class="m" transform="translate(0 309.00) scale(1 0.850)" x="364.10" y="0" fill="#000" font-size="13.75" xml:space="preserve">F</text>
<rect x="375.00" y="303.00" width="7.00" height="2.00" fill="#000"/>
<rect x="375.00" y="306.00" width="7.00" height="2.00" fill="#000"/>
<ellipse cx="389.69" cy="305.10" rx="2.45" ry="3.45" fill="none" stroke="#000" stroke-width="1.00"/>
<text class="m" transform="translate(0 309.00) scale(1 0.850)" x="396.94" y="0" fill="#000" font-size="13.75" xml:space="preserve">;</text>
<path d="M412.5 281.5 H409.5 V330.5 H412.5" fill="none" stroke="#000" stroke-width="1.00"/>
<path d="M459.5 281.5 H462.5 V330.5 H459.5" fill="none" stroke="#000" stroke-width="1.00"/>
<text class="m" transform="translate(0 290.60) scale(1 0.850)" x="423.10" y="0" fill="#000" font-size="13.75" xml:space="preserve">n</text>
<rect x="434.00" y="285.00" width="7.00" height="2.00" fill="#000"/>
<rect x="434.00" y="288.00" width="7.00" height="2.00" fill="#000"/>
<text class="m" transform="translate(0 290.60) scale(1 0.850)" x="444.61" y="0" fill="#000" font-size="13.75" xml:space="preserve">1</text>
<text class="m" transform="translate(0 308.60) scale(1 0.850)" x="414.90" y="0" fill="#000" font-size="13.75" xml:space="preserve">η</text>
<rect x="426.00" y="303.00" width="7.00" height="2.00" fill="#000"/>
<rect x="426.00" y="306.00" width="7.00" height="2.00" fill="#000"/>
<text class="m" transform="translate(0 308.60) scale(1 0.850)" x="436.41 444.71 453.01" y="0" fill="#000" font-size="13.75" xml:space="preserve">1  </text>
<ellipse cx="448.83" cy="304.70" rx="2.45" ry="3.45" fill="none" stroke="#000" stroke-width="1.00"/>
<ellipse cx="457.13" cy="304.70" rx="2.45" ry="3.45" fill="none" stroke="#000" stroke-width="1.00"/>
<text class="m" transform="translate(0 326.60) scale(1 0.850)" x="423.53" y="0" fill="#000" font-size="13.75" xml:space="preserve">λ</text>
<rect x="434.00" y="321.00" width="7.00" height="2.00" fill="#000"/>
<rect x="434.00" y="324.00" width="7.00" height="2.00" fill="#000"/>
<text class="m" transform="translate(0 326.60) scale(1 0.850)" x="444.61" y="0" fill="#000" font-size="13.75" xml:space="preserve">1</text>
<path d="M389.5 340.6 Q387.5 341.8 387.5 344.6 V364.3 Q387.5 366.3 385.5 366.8 Q387.5 367.3 387.5 369.3 V389.0 Q387.5 391.8 389.5 393.0" fill="none" stroke="#000" stroke-width="1.10"/>
<text class="m" transform="translate(0 352.60) scale(1 0.850)" x="393.00" y="0" fill="#000" font-size="13.75" xml:space="preserve">n</text>
<text class="m" transform="translate(0 370.60) scale(1 0.850)" x="393.00" y="0" fill="#000" font-size="13.75" xml:space="preserve">η</text>
<text class="m" transform="translate(0 388.40) scale(1 0.850)" x="393.43" y="0" fill="#000" font-size="13.75" xml:space="preserve">λ</text>
<rect x="409.00" y="366.00" width="7.00" height="1.00" fill="#000"/>
<rect x="409.00" y="369.00" width="7.00" height="1.00" fill="#000"/>
<path d="M423.5 340.6 Q421.5 341.8 421.5 344.6 V364.3 Q421.5 366.3 419.5 366.8 Q421.5 367.3 421.5 369.3 V389.0 Q421.5 391.8 423.5 393.0" fill="none" stroke="#000" stroke-width="1.10"/>
<text class="m" transform="translate(0 352.60) scale(1 0.850)" x="427.14 435.44 443.74 452.04 460.34 468.64 476.94 485.24" y="0" fill="#000" font-size="13.75" xml:space="preserve">3,1794 8</text>
<ellipse cx="481.07" cy="348.70" rx="2.45" ry="3.45" fill="none" stroke="#000" stroke-width="1.00"/>
<text class="m" transform="translate(0 370.60) scale(1 0.850)" x="426.94 435.24 443.54 451.84 460.14 468.44 476.74 485.04 493.34 501.64" y="0" fill="#000" font-size="13.75" xml:space="preserve">78 ,941956</text>
<ellipse cx="447.66" cy="366.70" rx="2.45" ry="3.45" fill="none" stroke="#000" stroke-width="1.00"/>
<text class="m" transform="translate(0 388.40) scale(1 0.850)" x="427.17 435.47 443.77 452.07 460.37 468.67 476.97 485.27" y="0" fill="#000" font-size="13.75" xml:space="preserve"> ,459333</text>
<ellipse cx="431.29" cy="384.50" rx="2.45" ry="3.45" fill="none" stroke="#000" stroke-width="1.00"/>
<text class="m" transform="translate(0 316.10) scale(1 0.850)" x="573.98 582.28 590.58" y="0" fill="#000" font-size="13.75" xml:space="preserve">sol</text>
<rect x="601.00" y="311.00" width="7.00" height="1.00" fill="#000"/>
<rect x="601.00" y="314.00" width="7.00" height="1.00" fill="#000"/>
<path d="M614.5 287.5 H611.5 V339.5 H614.5" fill="none" stroke="#000" stroke-width="1.00"/>
<path d="M700.5 287.5 H703.5 V339.5 H700.5" fill="none" stroke="#000" stroke-width="1.00"/>
<text class="m" transform="translate(0 298.90) scale(1 0.850)" x="625.34 633.64 641.94 650.24 658.54 666.84 675.14 683.44" y="0" fill="#000" font-size="13.75" xml:space="preserve">3,1794 8</text>
<ellipse cx="679.27" cy="295.00" rx="2.45" ry="3.45" fill="none" stroke="#000" stroke-width="1.00"/>
<text class="m" transform="translate(0 316.10) scale(1 0.850)" x="617.34 625.64 633.94 642.24 650.54 658.84 667.14 675.44 683.74 692.04" y="0" fill="#000" font-size="13.75" xml:space="preserve">78 ,941956</text>
<ellipse cx="638.06" cy="312.20" rx="2.45" ry="3.45" fill="none" stroke="#000" stroke-width="1.00"/>
<text class="m" transform="translate(0 334.30) scale(1 0.850)" x="625.37 633.67 641.97 650.27 658.57 666.87 675.17 683.47" y="0" fill="#000" font-size="13.75" xml:space="preserve"> ,459333</text>
<ellipse cx="629.49" cy="330.40" rx="2.45" ry="3.45" fill="none" stroke="#000" stroke-width="1.00"/>
<rect x="4.50" y="393.50" width="243.00" height="30.00" fill="#fbfa80" stroke="#000" stroke-width="1.10"/>
<text class="m" transform="translate(0 416.60) scale(1 0.850)" x="6.40" y="0" fill="#202000" font-size="13.75" xml:space="preserve">p</text>
<rect x="18.00" y="411.00" width="1.20" height="2.00" fill="#202000"/>
<rect x="18.00" y="414.00" width="1.20" height="2.00" fill="#202000"/>
<rect x="20.00" y="412.00" width="7.00" height="1.00" fill="#202000"/>
<rect x="20.00" y="414.00" width="7.00" height="1.00" fill="#202000"/>
<path d="M33.7 394.6 Q31.7 395.8 31.5 398.6 V417.9 Q31.7 420.7 33.7 421.9" fill="none" stroke="#000" stroke-width="1.10"/>
<text class="m" transform="translate(0 416.60) scale(1 0.850)" x="34.00" y="0" fill="#202000" font-size="13.75" xml:space="preserve">η</text>
<rect x="44" y="412" width="2" height="2" fill="#202000" fill-opacity="0.8"/>
<text class="m" transform="translate(0 416.60) scale(1 0.850)" x="50.07" y="0" fill="#202000" font-size="13.75" xml:space="preserve">f</text>
<rect x="59" y="412" width="2" height="2" fill="#202000" fill-opacity="0.8"/>
<path d="M66.7 396.3 Q64.7 397.5 64.5 400.3 V416.6 Q64.7 419.4 66.7 420.6" fill="none" stroke="#000" stroke-width="1.10"/>
<text class="m" transform="translate(0 416.60) scale(1 0.850)" x="68.31" y="0" fill="#202000" font-size="13.75" xml:space="preserve">B</text>
<text class="m" transform="translate(0 407.90) scale(1 0.850)" x="80.00" y="0" fill="#202000" font-size="13.75" xml:space="preserve">n</text>
<path d="M88.3 396.3 Q90.3 397.5 90.5 400.3 V416.6 Q90.3 419.4 88.3 420.6" fill="none" stroke="#000" stroke-width="1.10"/>
<text class="m" transform="translate(0 416.60) scale(1 0.850)" x="96.22" y="0" fill="#202000" font-size="13.75" xml:space="preserve">+</text>
<text class="m" transform="translate(0 416.60) scale(1 0.850)" x="105.43" y="0" fill="#202000" font-size="13.75" xml:space="preserve">λ</text>
<rect x="116" y="412" width="2" height="2" fill="#202000" fill-opacity="0.8"/>
<text class="m" transform="translate(0 416.60) scale(1 0.850)" x="120.47" y="0" fill="#202000" font-size="13.75" xml:space="preserve">f</text>
<text class="m" transform="translate(0 407.90) scale(1 0.850)" x="132.73" y="0" fill="#202000" font-size="13.75" xml:space="preserve">2</text>
<rect x="142" y="412" width="2" height="2" fill="#202000" fill-opacity="0.8"/>
<path d="M149.7 396.8 Q147.7 398.0 147.5 400.8 V416.6 Q147.7 419.4 149.7 420.6" fill="none" stroke="#000" stroke-width="1.10"/>
<text class="m" transform="translate(0 416.60) scale(1 0.850)" x="151.31" y="0" fill="#202000" font-size="13.75" xml:space="preserve">B</text>
<text class="m" transform="translate(0 407.90) scale(1 0.850)" x="163.03" y="0" fill="#202000" font-size="13.75" xml:space="preserve">2</text>
<path d="M170.3 396.8 Q172.3 398.0 172.5 400.8 V416.6 Q172.3 419.4 170.3 420.6" fill="none" stroke="#000" stroke-width="1.10"/>
<path d="M174.3 394.6 Q176.3 395.8 176.5 398.6 V417.9 Q176.3 420.7 174.3 421.9" fill="none" stroke="#000" stroke-width="1.10"/>
<rect x="182.00" y="412.00" width="7.00" height="1.00" fill="#202000"/>
<rect x="182.00" y="415.00" width="7.00" height="1.00" fill="#202000"/>
<text class="m" transform="translate(0 416.60) scale(1 0.850)" x="193.21 201.51 209.81 218.11 226.41" y="0" fill="#202000" font-size="13.75" xml:space="preserve">128,5</text>
<ellipse cx="215.5" cy="413.4" rx="24.5" ry="8.5" fill="none" stroke="#b82830" stroke-width="2"/>
<rect x="5.50" y="432.50" width="525.00" height="19.00" fill="#f47cf2" stroke="#000" stroke-width="1.10"/>
<text class="s" x="10.21" y="447.40" fill="#200020" font-size="13.50" textLength="519.0" lengthAdjust="spacing">f, f₁, f₂ - frequencies [kHz]; B, B₁, B₂ - inductions [T]; p, p₁, p₂, p₃ - core losses [kW / m³]</text>
<text class="s" x="562.83" y="446.90" fill="#111" font-size="16.00">Version 3</text>
<rect x="6.50" y="458.50" width="44.00" height="17.00" fill="#80fa80" stroke="#000" stroke-width="1.10"/>
<text class="m" transform="translate(0 470.50) scale(1 0.850)" x="9.47" y="0" fill="#002000" font-size="13.75" xml:space="preserve">f</text>
<rect x="20.00" y="464.00" width="1.20" height="2.00" fill="#002000"/>
<rect x="20.00" y="467.00" width="1.20" height="2.00" fill="#002000"/>
<rect x="22.00" y="465.00" width="7.00" height="1.00" fill="#002000"/>
<rect x="22.00" y="467.00" width="7.00" height="1.00" fill="#002000"/>
<text class="m" transform="translate(0 470.50) scale(1 0.850)" x="32.03 40.33" y="0" fill="#002000" font-size="13.75" xml:space="preserve">25</text>
<rect x="60.50" y="458.50" width="53.00" height="17.00" fill="#80fa80" stroke="#000" stroke-width="1.10"/>
<text class="m" transform="translate(0 470.50) scale(1 0.850)" x="63.71" y="0" fill="#002000" font-size="13.75" xml:space="preserve">B</text>
<rect x="74.00" y="464.00" width="1.20" height="2.00" fill="#002000"/>
<rect x="74.00" y="467.00" width="1.20" height="2.00" fill="#002000"/>
<rect x="76.00" y="465.00" width="7.00" height="1.00" fill="#002000"/>
<rect x="76.00" y="467.00" width="7.00" height="1.00" fill="#002000"/>
<text class="m" transform="translate(0 470.50) scale(1 0.850)" x="86.57 94.87 103.17" y="0" fill="#002000" font-size="13.75" xml:space="preserve"> ,2</text>
<ellipse cx="90.69" cy="466.60" rx="2.45" ry="3.45" fill="none" stroke="#002000" stroke-width="1.00"/>
<text class="m" transform="translate(0 470.40) scale(1 0.850)" x="135.57" y="0" fill="#000" font-size="13.75" xml:space="preserve">f</text>
<text class="m" transform="translate(0 478.10) scale(1 0.850)" x="144.11" y="0" fill="#000" font-size="13.75" xml:space="preserve">1</text>
<rect x="155.00" y="464.00" width="1.20" height="2.00" fill="#000"/>
<rect x="155.00" y="467.00" width="1.20" height="2.00" fill="#000"/>
<rect x="157.00" y="465.00" width="7.00" height="1.00" fill="#000"/>
<rect x="157.00" y="467.00" width="7.00" height="1.00" fill="#000"/>
<text class="m" transform="translate(0 470.40) scale(1 0.850)" x="167.61 175.91 184.21" y="0" fill="#000" font-size="13.75" xml:space="preserve">1  </text>
<ellipse cx="180.03" cy="466.50" rx="2.45" ry="3.45" fill="none" stroke="#000" stroke-width="1.00"/>
<ellipse cx="188.33" cy="466.50" rx="2.45" ry="3.45" fill="none" stroke="#000" stroke-width="1.00"/>
<text class="m" transform="translate(0 470.40) scale(1 0.850)" x="225.97" y="0" fill="#000" font-size="13.75" xml:space="preserve">f</text>
<text class="m" transform="translate(0 478.10) scale(1 0.850)" x="234.53" y="0" fill="#000" font-size="13.75" xml:space="preserve">2</text>
<rect x="245.00" y="464.00" width="1.20" height="2.00" fill="#000"/>
<rect x="245.00" y="467.00" width="1.20" height="2.00" fill="#000"/>
<rect x="247.00" y="465.00" width="7.00" height="1.00" fill="#000"/>
<rect x="247.00" y="467.00" width="7.00" height="1.00" fill="#000"/>
<text class="m" transform="translate(0 470.40) scale(1 0.850)" x="257.53 265.83" y="0" fill="#000" font-size="13.75" xml:space="preserve">25</text>
<text class="m" transform="translate(0 470.40) scale(1 0.850)" x="306.71" y="0" fill="#000" font-size="13.75" xml:space="preserve">B</text>
<text class="m" transform="translate(0 478.10) scale(1 0.850)" x="316.11" y="0" fill="#000" font-size="13.75" xml:space="preserve">1</text>
<rect x="327.00" y="464.00" width="1.20" height="2.00" fill="#000"/>
<rect x="327.00" y="467.00" width="1.20" height="2.00" fill="#000"/>
<rect x="329.00" y="465.00" width="7.00" height="1.00" fill="#000"/>
<rect x="329.00" y="467.00" width="7.00" height="1.00" fill="#000"/>
<text class="m" transform="translate(0 470.40) scale(1 0.850)" x="338.57 346.87 355.17" y="0" fill="#000" font-size="13.75" xml:space="preserve"> ,1</text>
<ellipse cx="342.69" cy="466.50" rx="2.45" ry="3.45" fill="none" stroke="#000" stroke-width="1.00"/>
<text class="m" transform="translate(0 470.40) scale(1 0.850)" x="396.11" y="0" fill="#000" font-size="13.75" xml:space="preserve">B</text>
<text class="m" transform="translate(0 478.10) scale(1 0.850)" x="405.53" y="0" fill="#000" font-size="13.75" xml:space="preserve">2</text>
<rect x="416.00" y="464.00" width="1.20" height="2.00" fill="#000"/>
<rect x="416.00" y="467.00" width="1.20" height="2.00" fill="#000"/>
<rect x="418.00" y="465.00" width="7.00" height="1.00" fill="#000"/>
<rect x="418.00" y="467.00" width="7.00" height="1.00" fill="#000"/>
<text class="m" transform="translate(0 470.40) scale(1 0.850)" x="427.07 435.37 443.67" y="0" fill="#000" font-size="13.75" xml:space="preserve"> ,2</text>
<ellipse cx="431.19" cy="466.50" rx="2.45" ry="3.45" fill="none" stroke="#000" stroke-width="1.00"/>
<text class="m" transform="translate(0 470.40) scale(1 0.850)" x="485.20" y="0" fill="#000" font-size="13.75" xml:space="preserve">p</text>
<text class="m" transform="translate(0 478.10) scale(1 0.850)" x="495.71" y="0" fill="#000" font-size="13.75" xml:space="preserve">1</text>
<rect x="506.00" y="464.00" width="1.20" height="2.00" fill="#000"/>
<rect x="506.00" y="467.00" width="1.20" height="2.00" fill="#000"/>
<rect x="508.00" y="465.00" width="7.00" height="1.00" fill="#000"/>
<rect x="508.00" y="467.00" width="7.00" height="1.00" fill="#000"/>
<text class="m" transform="translate(0 470.40) scale(1 0.850)" x="517.25 525.55 533.85 542.15" y="0" fill="#000" font-size="13.75" xml:space="preserve">97,6</text>
<text class="m" transform="translate(0 470.40) scale(1 0.850)" x="583.90" y="0" fill="#000" font-size="13.75" xml:space="preserve">p</text>
<text class="m" transform="translate(0 478.10) scale(1 0.850)" x="594.43" y="0" fill="#000" font-size="13.75" xml:space="preserve">2</text>
<rect x="604.00" y="464.00" width="1.20" height="2.00" fill="#000"/>
<rect x="604.00" y="467.00" width="1.20" height="2.00" fill="#000"/>
<rect x="606.00" y="465.00" width="7.00" height="1.00" fill="#000"/>
<rect x="606.00" y="467.00" width="7.00" height="1.00" fill="#000"/>
<text class="m" transform="translate(0 470.40) scale(1 0.850)" x="617.41 625.71 634.01 642.31 650.61" y="0" fill="#000" font-size="13.75" xml:space="preserve">128,5</text>
<text class="m" transform="translate(0 470.40) scale(1 0.850)" x="683.40" y="0" fill="#000" font-size="13.75" xml:space="preserve">p</text>
<text class="m" transform="translate(0 478.10) scale(1 0.850)" x="694.04" y="0" fill="#000" font-size="13.75" xml:space="preserve">3</text>
<rect x="704.00" y="464.00" width="1.20" height="2.00" fill="#000"/>
<rect x="704.00" y="467.00" width="1.20" height="2.00" fill="#000"/>
<rect x="706.00" y="465.00" width="7.00" height="1.00" fill="#000"/>
<rect x="706.00" y="467.00" width="7.00" height="1.00" fill="#000"/>
<text class="m" transform="translate(0 470.40) scale(1 0.850)" x="714.09 722.39 730.69 738.99 747.29" y="0" fill="#000" font-size="13.75" xml:space="preserve">651,8</text>
<ellipse cx="637.3" cy="466.9" rx="24.6" ry="8.0" fill="none" stroke="#b82830" stroke-width="2"/>
<text class="m" transform="translate(0 550.90) scale(1 0.850)" x="18.30" y="0" fill="#000" font-size="13.75" xml:space="preserve">F</text>
<rect x="29.00" y="545.00" width="1.20" height="2.00" fill="#000"/>
<rect x="29.00" y="548.00" width="1.20" height="2.00" fill="#000"/>
<rect x="31.00" y="546.00" width="7.00" height="1.00" fill="#000"/>
<rect x="31.00" y="548.00" width="7.00" height="1.00" fill="#000"/>
<path d="M44.5 496.5 H41.5 V599.5 H44.5" fill="none" stroke="#000" stroke-width="1.00"/>
<path d="M238.5 496.5 H241.5 V599.5 H238.5" fill="none" stroke="#000" stroke-width="1.00"/>
<text class="m" transform="translate(0 516.90) scale(1 0.850)" x="45.80" y="0" fill="#000" font-size="13.75" xml:space="preserve">η</text>
<rect x="57" y="512" width="2" height="2" fill="#000" fill-opacity="0.8"/>
<text class="m" transform="translate(0 516.90) scale(1 0.850)" x="61.77" y="0" fill="#000" font-size="13.75" xml:space="preserve">f</text>
<text class="m" transform="translate(0 524.60) scale(1 0.850)" x="70.71" y="0" fill="#000" font-size="13.75" xml:space="preserve">1</text>
<rect x="80" y="512" width="2" height="2" fill="#000" fill-opacity="0.8"/>
<text class="m" transform="translate(0 516.90) scale(1 0.850)" x="85.11" y="0" fill="#000" font-size="13.75" xml:space="preserve">B</text>
<text class="m" transform="translate(0 524.60) scale(1 0.850)" x="94.61" y="0" fill="#000" font-size="13.75" xml:space="preserve">1</text>
<text class="m" transform="translate(0 508.20) scale(1 0.850)" x="106.40" y="0" fill="#000" font-size="13.75" xml:space="preserve">n</text>
<text class="m" transform="translate(0 516.90) scale(1 0.850)" x="117.02" y="0" fill="#000" font-size="13.75" xml:space="preserve">+</text>
<text class="m" transform="translate(0 516.90) scale(1 0.850)" x="127.13" y="0" fill="#000" font-size="13.75" xml:space="preserve">λ</text>
<rect x="138" y="512" width="2" height="2" fill="#000" fill-opacity="0.8"/>
<text class="m" transform="translate(0 516.90) scale(1 0.850)" x="142.97" y="0" fill="#000" font-size="13.75" xml:space="preserve">f</text>
<text class="m" transform="translate(0 524.60) scale(1 0.850)" x="151.91" y="0" fill="#000" font-size="13.75" xml:space="preserve">1</text>
<text class="m" transform="translate(0 508.20) scale(1 0.850)" x="163.73" y="0" fill="#000" font-size="13.75" xml:space="preserve">2</text>
<rect x="173" y="512" width="2" height="2" fill="#000" fill-opacity="0.8"/>
<text class="m" transform="translate(0 516.90) scale(1 0.850)" x="177.31" y="0" fill="#000" font-size="13.75" xml:space="preserve">B</text>
<text class="m" transform="translate(0 524.60) scale(1 0.850)" x="187.21" y="0" fill="#000" font-size="13.75" xml:space="preserve">1</text>
<text class="m" transform="translate(0 508.20) scale(1 0.850)" x="199.53" y="0" fill="#000" font-size="13.75" xml:space="preserve">2</text>
<text class="m" transform="translate(0 516.90) scale(1 0.850)" x="209.61" y="0" fill="#000" font-size="13.75" xml:space="preserve">−</text>
<text class="m" transform="translate(0 516.90) scale(1 0.850)" x="219.10" y="0" fill="#000" font-size="13.75" xml:space="preserve">p</text>
<text class="m" transform="translate(0 524.60) scale(1 0.850)" x="229.91" y="0" fill="#000" font-size="13.75" xml:space="preserve">1</text>
<text class="m" transform="translate(0 552.00) scale(1 0.850)" x="45.80" y="0" fill="#000" font-size="13.75" xml:space="preserve">η</text>
<rect x="57" y="547" width="2" height="2" fill="#000" fill-opacity="0.8"/>
<text class="m" transform="translate(0 552.00) scale(1 0.850)" x="61.77" y="0" fill="#000" font-size="13.75" xml:space="preserve">f</text>
<text class="m" transform="translate(0 559.70) scale(1 0.850)" x="70.73" y="0" fill="#000" font-size="13.75" xml:space="preserve">2</text>
<rect x="80" y="547" width="2" height="2" fill="#000" fill-opacity="0.8"/>
<text class="m" transform="translate(0 552.00) scale(1 0.850)" x="85.11" y="0" fill="#000" font-size="13.75" xml:space="preserve">B</text>
<text class="m" transform="translate(0 559.70) scale(1 0.850)" x="94.63" y="0" fill="#000" font-size="13.75" xml:space="preserve">2</text>
<text class="m" transform="translate(0 543.30) scale(1 0.850)" x="106.40" y="0" fill="#000" font-size="13.75" xml:space="preserve">n</text>
<text class="m" transform="translate(0 552.00) scale(1 0.850)" x="117.02" y="0" fill="#000" font-size="13.75" xml:space="preserve">+</text>
<text class="m" transform="translate(0 552.00) scale(1 0.850)" x="127.13" y="0" fill="#000" font-size="13.75" xml:space="preserve">λ</text>
<rect x="138" y="547" width="2" height="2" fill="#000" fill-opacity="0.8"/>
<text class="m" transform="translate(0 552.00) scale(1 0.850)" x="142.97" y="0" fill="#000" font-size="13.75" xml:space="preserve">f</text>
<text class="m" transform="translate(0 559.70) scale(1 0.850)" x="151.93" y="0" fill="#000" font-size="13.75" xml:space="preserve">2</text>
<text class="m" transform="translate(0 543.30) scale(1 0.850)" x="163.73" y="0" fill="#000" font-size="13.75" xml:space="preserve">2</text>
<rect x="173" y="547" width="2" height="2" fill="#000" fill-opacity="0.8"/>
<text class="m" transform="translate(0 552.00) scale(1 0.850)" x="177.31" y="0" fill="#000" font-size="13.75" xml:space="preserve">B</text>
<text class="m" transform="translate(0 559.70) scale(1 0.850)" x="187.23" y="0" fill="#000" font-size="13.75" xml:space="preserve">2</text>
<text class="m" transform="translate(0 543.30) scale(1 0.850)" x="199.53" y="0" fill="#000" font-size="13.75" xml:space="preserve">2</text>
<text class="m" transform="translate(0 552.00) scale(1 0.850)" x="209.61" y="0" fill="#000" font-size="13.75" xml:space="preserve">−</text>
<text class="m" transform="translate(0 552.00) scale(1 0.850)" x="219.10" y="0" fill="#000" font-size="13.75" xml:space="preserve">p</text>
<text class="m" transform="translate(0 559.70) scale(1 0.850)" x="229.93" y="0" fill="#000" font-size="13.75" xml:space="preserve">2</text>
<text class="m" transform="translate(0 587.10) scale(1 0.850)" x="45.80" y="0" fill="#000" font-size="13.75" xml:space="preserve">η</text>
<rect x="57" y="582" width="2" height="2" fill="#000" fill-opacity="0.8"/>
<text class="m" transform="translate(0 587.10) scale(1 0.850)" x="61.77" y="0" fill="#000" font-size="13.75" xml:space="preserve">f</text>
<text class="m" transform="translate(0 594.80) scale(1 0.850)" x="70.71" y="0" fill="#000" font-size="13.75" xml:space="preserve">1</text>
<rect x="80" y="582" width="2" height="2" fill="#000" fill-opacity="0.8"/>
<text class="m" transform="translate(0 587.10) scale(1 0.850)" x="85.11" y="0" fill="#000" font-size="13.75" xml:space="preserve">B</text>
<text class="m" transform="translate(0 594.80) scale(1 0.850)" x="94.63" y="0" fill="#000" font-size="13.75" xml:space="preserve">2</text>
<text class="m" transform="translate(0 578.40) scale(1 0.850)" x="106.40" y="0" fill="#000" font-size="13.75" xml:space="preserve">n</text>
<text class="m" transform="translate(0 587.10) scale(1 0.850)" x="117.02" y="0" fill="#000" font-size="13.75" xml:space="preserve">+</text>
<text class="m" transform="translate(0 587.10) scale(1 0.850)" x="127.13" y="0" fill="#000" font-size="13.75" xml:space="preserve">λ</text>
<rect x="138" y="582" width="2" height="2" fill="#000" fill-opacity="0.8"/>
<text class="m" transform="translate(0 587.10) scale(1 0.850)" x="142.97" y="0" fill="#000" font-size="13.75" xml:space="preserve">f</text>
<text class="m" transform="translate(0 594.80) scale(1 0.850)" x="151.91" y="0" fill="#000" font-size="13.75" xml:space="preserve">1</text>
<text class="m" transform="translate(0 578.40) scale(1 0.850)" x="163.73" y="0" fill="#000" font-size="13.75" xml:space="preserve">2</text>
<rect x="173" y="582" width="2" height="2" fill="#000" fill-opacity="0.8"/>
<text class="m" transform="translate(0 587.10) scale(1 0.850)" x="177.31" y="0" fill="#000" font-size="13.75" xml:space="preserve">B</text>
<text class="m" transform="translate(0 594.80) scale(1 0.850)" x="187.23" y="0" fill="#000" font-size="13.75" xml:space="preserve">2</text>
<text class="m" transform="translate(0 578.40) scale(1 0.850)" x="199.53" y="0" fill="#000" font-size="13.75" xml:space="preserve">2</text>
<text class="m" transform="translate(0 587.10) scale(1 0.850)" x="209.61" y="0" fill="#000" font-size="13.75" xml:space="preserve">−</text>
<text class="m" transform="translate(0 587.10) scale(1 0.850)" x="219.10" y="0" fill="#000" font-size="13.75" xml:space="preserve">p</text>
<text class="m" transform="translate(0 594.80) scale(1 0.850)" x="230.04" y="0" fill="#000" font-size="13.75" xml:space="preserve">3</text>
<text class="m" transform="translate(0 517.60) scale(1 0.850)" x="251.88 260.18 268.48" y="0" fill="#000" font-size="13.75" xml:space="preserve">sol</text>
<rect x="279.00" y="512.00" width="1.20" height="2.00" fill="#000"/>
<rect x="279.00" y="515.00" width="1.20" height="2.00" fill="#000"/>
<rect x="281.00" y="513.00" width="7.00" height="1.00" fill="#000"/>
<rect x="281.00" y="515.00" width="7.00" height="1.00" fill="#000"/>
<text class="m" transform="translate(0 517.60) scale(1 0.850)" x="291.90 300.20 308.50 316.80 325.10 333.40 341.70 350.00" y="0" fill="#000" font-size="13.75" xml:space="preserve">FindRoot</text>
<path d="M364.7 488.0 Q362.7 489.2 362.5 492.0 V536.0 Q362.7 538.8 364.7 540.0" fill="none" stroke="#000" stroke-width="1.10"/>
<path d="M459.3 488.0 Q461.3 489.2 461.5 492.0 V536.0 Q461.3 538.8 459.3 540.0" fill="none" stroke="#000" stroke-width="1.10"/>
<text class="m" transform="translate(0 518.00) scale(1 0.850)" x="365.70" y="0" fill="#000" font-size="13.75" xml:space="preserve">F</text>
<rect x="376.00" y="512.00" width="7.00" height="2.00" fill="#000"/>
<rect x="376.00" y="515.00" width="7.00" height="2.00" fill="#000"/>
<ellipse cx="391.29" cy="514.10" rx="2.45" ry="3.45" fill="none" stroke="#000" stroke-width="1.00"/>
<text class="m" transform="translate(0 518.00) scale(1 0.850)" x="398.54" y="0" fill="#000" font-size="13.75" xml:space="preserve">;</text>
<path d="M414.5 488.5 H411.5 V539.5 H414.5" fill="none" stroke="#000" stroke-width="1.00"/>
<path d="M454.5 488.5 H457.5 V539.5 H454.5" fill="none" stroke="#000" stroke-width="1.00"/>
<text class="m" transform="translate(0 499.50) scale(1 0.850)" x="420.40" y="0" fill="#000" font-size="13.75" xml:space="preserve">n</text>
<rect x="431.00" y="494.00" width="7.00" height="2.00" fill="#000"/>
<rect x="431.00" y="497.00" width="7.00" height="2.00" fill="#000"/>
<text class="m" transform="translate(0 499.50) scale(1 0.850)" x="441.91" y="0" fill="#000" font-size="13.75" xml:space="preserve">1</text>
<text class="m" transform="translate(0 517.60) scale(1 0.850)" x="415.90" y="0" fill="#000" font-size="13.75" xml:space="preserve">η</text>
<rect x="427.00" y="512.00" width="7.00" height="2.00" fill="#000"/>
<rect x="427.00" y="515.00" width="7.00" height="2.00" fill="#000"/>
<text class="m" transform="translate(0 517.60) scale(1 0.850)" x="437.41 445.71" y="0" fill="#000" font-size="13.75" xml:space="preserve">1 </text>
<ellipse cx="449.83" cy="513.70" rx="2.45" ry="3.45" fill="none" stroke="#000" stroke-width="1.00"/>
<text class="m" transform="translate(0 535.20) scale(1 0.850)" x="420.83" y="0" fill="#000" font-size="13.75" xml:space="preserve">λ</text>
<rect x="431.00" y="529.00" width="7.00" height="2.00" fill="#000"/>
<rect x="431.00" y="532.00" width="7.00" height="2.00" fill="#000"/>
<text class="m" transform="translate(0 535.20) scale(1 0.850)" x="441.91" y="0" fill="#000" font-size="13.75" xml:space="preserve">1</text>
<path d="M391.5 550.2 Q389.5 551.4 389.5 554.2 V573.6 Q389.5 575.6 387.5 576.1 Q389.5 576.6 389.5 578.6 V598.0 Q389.5 600.8 391.5 602.0" fill="none" stroke="#000" stroke-width="1.10"/>
<text class="m" transform="translate(0 561.20) scale(1 0.850)" x="394.80" y="0" fill="#000" font-size="13.75" xml:space="preserve">n</text>
<text class="m" transform="translate(0 579.30) scale(1 0.850)" x="394.80" y="0" fill="#000" font-size="13.75" xml:space="preserve">η</text>
<text class="m" transform="translate(0 597.00) scale(1 0.850)" x="395.23" y="0" fill="#000" font-size="13.75" xml:space="preserve">λ</text>
<rect x="411.00" y="574.00" width="7.00" height="1.00" fill="#000"/>
<rect x="411.00" y="577.00" width="7.00" height="1.00" fill="#000"/>
<path d="M425.5 550.2 Q423.5 551.4 423.5 554.2 V573.6 Q423.5 575.6 421.5 576.1 Q423.5 576.6 423.5 578.6 V598.0 Q423.5 600.8 425.5 602.0" fill="none" stroke="#000" stroke-width="1.10"/>
<text class="m" transform="translate(0 561.20) scale(1 0.850)" x="428.94 437.24 445.54 453.84 462.14 470.44 478.74 487.04" y="0" fill="#000" font-size="13.75" xml:space="preserve">3,181 17</text>
<ellipse cx="474.57" cy="557.30" rx="2.45" ry="3.45" fill="none" stroke="#000" stroke-width="1.00"/>
<text class="m" transform="translate(0 579.30) scale(1 0.850)" x="428.74 437.04 445.34 453.64 461.94 470.24 478.54 486.84 495.14" y="0" fill="#000" font-size="13.75" xml:space="preserve">782,54781</text>
<text class="m" transform="translate(0 597.00) scale(1 0.850)" x="428.97 437.27 445.57 453.87 462.17 470.47 478.77 487.07" y="0" fill="#000" font-size="13.75" xml:space="preserve"> ,459333</text>
<ellipse cx="433.09" cy="593.10" rx="2.45" ry="3.45" fill="none" stroke="#000" stroke-width="1.00"/>
<text class="m" transform="translate(0 526.20) scale(1 0.850)" x="576.08 584.38 592.68" y="0" fill="#000" font-size="13.75" xml:space="preserve">sol</text>
<rect x="604.00" y="521.00" width="7.00" height="1.00" fill="#000"/>
<rect x="604.00" y="524.00" width="7.00" height="1.00" fill="#000"/>
<path d="M617.5 496.5 H614.5 V548.5 H617.5" fill="none" stroke="#000" stroke-width="1.00"/>
<path d="M693.5 496.5 H696.5 V548.5 H693.5" fill="none" stroke="#000" stroke-width="1.00"/>
<text class="m" transform="translate(0 508.10) scale(1 0.850)" x="623.24 631.54 639.84 648.14 656.44 664.74 673.04 681.34" y="0" fill="#000" font-size="13.75" xml:space="preserve">3,181 17</text>
<ellipse cx="668.87" cy="504.20" rx="2.45" ry="3.45" fill="none" stroke="#000" stroke-width="1.00"/>
<text class="m" transform="translate(0 526.20) scale(1 0.850)" x="619.64 627.94 636.24 644.54 652.84 661.14 669.44 677.74 686.04" y="0" fill="#000" font-size="13.75" xml:space="preserve">782,54781</text>
<text class="m" transform="translate(0 543.40) scale(1 0.850)" x="623.27 631.57 639.87 648.17 656.47 664.77 673.07 681.37" y="0" fill="#000" font-size="13.75" xml:space="preserve"> ,459333</text>
<ellipse cx="627.39" cy="539.50" rx="2.45" ry="3.45" fill="none" stroke="#000" stroke-width="1.00"/>
<rect x="6.50" y="602.50" width="284.00" height="30.00" fill="#fbfa80" stroke="#000" stroke-width="1.10"/>
<text class="m" transform="translate(0 625.60) scale(1 0.850)" x="8.20" y="0" fill="#202000" font-size="13.75" xml:space="preserve">p</text>
<rect x="20.00" y="620.00" width="1.20" height="2.00" fill="#202000"/>
<rect x="20.00" y="623.00" width="1.20" height="2.00" fill="#202000"/>
<rect x="22.00" y="621.00" width="7.00" height="1.00" fill="#202000"/>
<rect x="22.00" y="623.00" width="7.00" height="1.00" fill="#202000"/>
<path d="M34.7 603.6 Q32.7 604.8 32.5 607.6 V626.9 Q32.7 629.7 34.7 630.9" fill="none" stroke="#000" stroke-width="1.10"/>
<text class="m" transform="translate(0 625.60) scale(1 0.850)" x="35.80" y="0" fill="#202000" font-size="13.75" xml:space="preserve">η</text>
<rect x="46" y="621" width="2" height="2" fill="#202000" fill-opacity="0.8"/>
<text class="m" transform="translate(0 625.60) scale(1 0.850)" x="51.87" y="0" fill="#202000" font-size="13.75" xml:space="preserve">f</text>
<rect x="61" y="621" width="2" height="2" fill="#202000" fill-opacity="0.8"/>
<path d="M68.7 605.3 Q66.7 606.5 66.5 609.3 V625.6 Q66.7 628.4 68.7 629.6" fill="none" stroke="#000" stroke-width="1.10"/>
<text class="m" transform="translate(0 625.60) scale(1 0.850)" x="70.11" y="0" fill="#202000" font-size="13.75" xml:space="preserve">B</text>
<text class="m" transform="translate(0 616.90) scale(1 0.850)" x="81.80" y="0" fill="#202000" font-size="13.75" xml:space="preserve">n</text>
<path d="M90.3 605.3 Q92.3 606.5 92.5 609.3 V625.6 Q92.3 628.4 90.3 629.6" fill="none" stroke="#000" stroke-width="1.10"/>
<text class="m" transform="translate(0 625.60) scale(1 0.850)" x="98.02" y="0" fill="#202000" font-size="13.75" xml:space="preserve">+</text>
<text class="m" transform="translate(0 625.60) scale(1 0.850)" x="107.23" y="0" fill="#202000" font-size="13.75" xml:space="preserve">λ</text>
<rect x="117" y="621" width="2" height="2" fill="#202000" fill-opacity="0.8"/>
<text class="m" transform="translate(0 625.60) scale(1 0.850)" x="122.27" y="0" fill="#202000" font-size="13.75" xml:space="preserve">f</text>
<text class="m" transform="translate(0 616.90) scale(1 0.850)" x="134.53" y="0" fill="#202000" font-size="13.75" xml:space="preserve">2</text>
<rect x="143" y="621" width="2" height="2" fill="#202000" fill-opacity="0.8"/>
<path d="M151.7 605.8 Q149.7 607.0 149.5 609.8 V625.6 Q149.7 628.4 151.7 629.6" fill="none" stroke="#000" stroke-width="1.10"/>
<text class="m" transform="translate(0 625.60) scale(1 0.850)" x="153.11" y="0" fill="#202000" font-size="13.75" xml:space="preserve">B</text>
<text class="m" transform="translate(0 616.90) scale(1 0.850)" x="164.83" y="0" fill="#202000" font-size="13.75" xml:space="preserve">2</text>
<path d="M172.3 605.8 Q174.3 607.0 174.5 609.8 V625.6 Q174.3 628.4 172.3 629.6" fill="none" stroke="#000" stroke-width="1.10"/>
<path d="M176.3 603.6 Q178.3 604.8 178.5 607.6 V626.9 Q178.3 629.7 176.3 630.9" fill="none" stroke="#000" stroke-width="1.10"/>
<rect x="184.00" y="621.00" width="7.00" height="1.00" fill="#202000"/>
<rect x="184.00" y="624.00" width="7.00" height="1.00" fill="#202000"/>
<text class="m" transform="translate(0 625.60) scale(1 0.850)" x="195.01 203.31 211.61 219.91 228.21 236.51 244.81 253.11 261.41 269.71" y="0" fill="#202000" font-size="13.75" xml:space="preserve">128,437447</text>
<ellipse cx="237.6" cy="623.3" rx="45.6" ry="13.6" fill="none" stroke="#b82830" stroke-width="2"/>
<text class="s" x="305.30" y="629.80" fill="#b82838" font-size="17.00">?!</text>
<rect x="7.50" y="643.50" width="526.00" height="19.00" fill="#f47cf2" stroke="#000" stroke-width="1.10"/>
<text class="s" x="12.21" y="658.40" fill="#200020" font-size="13.50" textLength="519.0" lengthAdjust="spacing">f, f₁, f₂ - frequencies [kHz]; B, B₁, B₂ - inductions [T]; p, p₁, p₂, p₃ - core losses [kW / m³]</text>
<text class="s" x="565.93" y="658.50" fill="#111" font-size="16.00">Version 4</text>
<rect x="7.50" y="670.50" width="44.00" height="17.00" fill="#80fa80" stroke="#000" stroke-width="1.10"/>
<text class="m" transform="translate(0 682.60) scale(1 0.850)" x="10.97" y="0" fill="#002000" font-size="13.75" xml:space="preserve">f</text>
<rect x="21.00" y="677.00" width="1.20" height="2.00" fill="#002000"/>
<rect x="21.00" y="680.00" width="1.20" height="2.00" fill="#002000"/>
<rect x="23.00" y="678.00" width="7.00" height="1.00" fill="#002000"/>
<rect x="23.00" y="680.00" width="7.00" height="1.00" fill="#002000"/>
<text class="m" transform="translate(0 682.60) scale(1 0.850)" x="33.53 41.83" y="0" fill="#002000" font-size="13.75" xml:space="preserve">25</text>
<rect x="61.50" y="670.50" width="53.00" height="17.00" fill="#80fa80" stroke="#000" stroke-width="1.10"/>
<text class="m" transform="translate(0 682.60) scale(1 0.850)" x="64.51" y="0" fill="#002000" font-size="13.75" xml:space="preserve">B</text>
<rect x="75.00" y="677.00" width="1.20" height="2.00" fill="#002000"/>
<rect x="75.00" y="680.00" width="1.20" height="2.00" fill="#002000"/>
<rect x="77.00" y="678.00" width="7.00" height="1.00" fill="#002000"/>
<rect x="77.00" y="680.00" width="7.00" height="1.00" fill="#002000"/>
<text class="m" transform="translate(0 682.60) scale(1 0.850)" x="87.37 95.67 103.97" y="0" fill="#002000" font-size="13.75" xml:space="preserve"> ,2</text>
<ellipse cx="91.49" cy="678.70" rx="2.45" ry="3.45" fill="none" stroke="#002000" stroke-width="1.00"/>
<text class="m" transform="translate(0 682.40) scale(1 0.850)" x="136.17" y="0" fill="#000" font-size="13.75" xml:space="preserve">f</text>
<text class="m" transform="translate(0 690.10) scale(1 0.850)" x="144.71" y="0" fill="#000" font-size="13.75" xml:space="preserve">1</text>
<rect x="155.00" y="676.00" width="1.20" height="2.00" fill="#000"/>
<rect x="155.00" y="679.00" width="1.20" height="2.00" fill="#000"/>
<rect x="157.00" y="677.00" width="7.00" height="1.00" fill="#000"/>
<rect x="157.00" y="679.00" width="7.00" height="1.00" fill="#000"/>
<text class="m" transform="translate(0 682.40) scale(1 0.850)" x="168.41 176.71 185.01" y="0" fill="#000" font-size="13.75" xml:space="preserve">1  </text>
<ellipse cx="180.83" cy="678.50" rx="2.45" ry="3.45" fill="none" stroke="#000" stroke-width="1.00"/>
<ellipse cx="189.13" cy="678.50" rx="2.45" ry="3.45" fill="none" stroke="#000" stroke-width="1.00"/>
<text class="m" transform="translate(0 682.40) scale(1 0.850)" x="226.97" y="0" fill="#000" font-size="13.75" xml:space="preserve">f</text>
<text class="m" transform="translate(0 690.10) scale(1 0.850)" x="235.53" y="0" fill="#000" font-size="13.75" xml:space="preserve">2</text>
<rect x="246.00" y="676.00" width="1.20" height="2.00" fill="#000"/>
<rect x="246.00" y="679.00" width="1.20" height="2.00" fill="#000"/>
<rect x="248.00" y="677.00" width="7.00" height="1.00" fill="#000"/>
<rect x="248.00" y="679.00" width="7.00" height="1.00" fill="#000"/>
<text class="m" transform="translate(0 682.40) scale(1 0.850)" x="258.53 266.83" y="0" fill="#000" font-size="13.75" xml:space="preserve">25</text>
<text class="m" transform="translate(0 682.40) scale(1 0.850)" x="307.71" y="0" fill="#000" font-size="13.75" xml:space="preserve">B</text>
<text class="m" transform="translate(0 690.10) scale(1 0.850)" x="317.11" y="0" fill="#000" font-size="13.75" xml:space="preserve">1</text>
<rect x="328.00" y="676.00" width="1.20" height="2.00" fill="#000"/>
<rect x="328.00" y="679.00" width="1.20" height="2.00" fill="#000"/>
<rect x="330.00" y="677.00" width="7.00" height="1.00" fill="#000"/>
<rect x="330.00" y="679.00" width="7.00" height="1.00" fill="#000"/>
<text class="m" transform="translate(0 682.40) scale(1 0.850)" x="339.57 347.87 356.17" y="0" fill="#000" font-size="13.75" xml:space="preserve"> ,1</text>
<ellipse cx="343.69" cy="678.50" rx="2.45" ry="3.45" fill="none" stroke="#000" stroke-width="1.00"/>
<text class="m" transform="translate(0 682.40) scale(1 0.850)" x="397.11" y="0" fill="#000" font-size="13.75" xml:space="preserve">B</text>
<text class="m" transform="translate(0 690.10) scale(1 0.850)" x="406.53" y="0" fill="#000" font-size="13.75" xml:space="preserve">2</text>
<rect x="418.00" y="676.00" width="1.20" height="2.00" fill="#000"/>
<rect x="418.00" y="679.00" width="1.20" height="2.00" fill="#000"/>
<rect x="420.00" y="677.00" width="7.00" height="1.00" fill="#000"/>
<rect x="420.00" y="679.00" width="7.00" height="1.00" fill="#000"/>
<text class="m" transform="translate(0 682.40) scale(1 0.850)" x="428.07 436.37 444.67" y="0" fill="#000" font-size="13.75" xml:space="preserve"> ,2</text>
<ellipse cx="432.19" cy="678.50" rx="2.45" ry="3.45" fill="none" stroke="#000" stroke-width="1.00"/>
<text class="m" transform="translate(0 682.40) scale(1 0.850)" x="486.40" y="0" fill="#000" font-size="13.75" xml:space="preserve">p</text>
<text class="m" transform="translate(0 690.10) scale(1 0.850)" x="496.91" y="0" fill="#000" font-size="13.75" xml:space="preserve">1</text>
<rect x="507.00" y="676.00" width="1.20" height="2.00" fill="#000"/>
<rect x="507.00" y="679.00" width="1.20" height="2.00" fill="#000"/>
<rect x="509.00" y="677.00" width="7.00" height="1.00" fill="#000"/>
<rect x="509.00" y="679.00" width="7.00" height="1.00" fill="#000"/>
<text class="m" transform="translate(0 682.40) scale(1 0.850)" x="518.45 526.75 535.05 543.35" y="0" fill="#000" font-size="13.75" xml:space="preserve">97,6</text>
<text class="m" transform="translate(0 682.40) scale(1 0.850)" x="585.80" y="0" fill="#000" font-size="13.75" xml:space="preserve">p</text>
<text class="m" transform="translate(0 690.10) scale(1 0.850)" x="596.33" y="0" fill="#000" font-size="13.75" xml:space="preserve">2</text>
<rect x="606.00" y="676.00" width="1.20" height="2.00" fill="#000"/>
<rect x="606.00" y="679.00" width="1.20" height="2.00" fill="#000"/>
<rect x="608.00" y="677.00" width="7.00" height="1.00" fill="#000"/>
<rect x="608.00" y="679.00" width="7.00" height="1.00" fill="#000"/>
<text class="m" transform="translate(0 682.40) scale(1 0.850)" x="619.41 627.71 636.01 644.31 652.61" y="0" fill="#000" font-size="13.75" xml:space="preserve">128,5</text>
<text class="m" transform="translate(0 682.40) scale(1 0.850)" x="684.40" y="0" fill="#000" font-size="13.75" xml:space="preserve">p</text>
<text class="m" transform="translate(0 690.10) scale(1 0.850)" x="695.04" y="0" fill="#000" font-size="13.75" xml:space="preserve">3</text>
<rect x="705.00" y="676.00" width="1.20" height="2.00" fill="#000"/>
<rect x="705.00" y="679.00" width="1.20" height="2.00" fill="#000"/>
<rect x="707.00" y="677.00" width="7.00" height="1.00" fill="#000"/>
<rect x="707.00" y="679.00" width="7.00" height="1.00" fill="#000"/>
<text class="m" transform="translate(0 682.40) scale(1 0.850)" x="715.39 723.69 731.99 740.29 748.59" y="0" fill="#000" font-size="13.75" xml:space="preserve">651,8</text>
<ellipse cx="640.2" cy="679.0" rx="23.5" ry="7.5" fill="none" stroke="#b82830" stroke-width="2"/>
<text class="m" transform="translate(0 763.10) scale(1 0.850)" x="19.80" y="0" fill="#000" font-size="13.75" xml:space="preserve">F</text>
<rect x="31.00" y="757.00" width="1.20" height="2.00" fill="#000"/>
<rect x="31.00" y="760.00" width="1.20" height="2.00" fill="#000"/>
<rect x="33.00" y="758.00" width="7.00" height="1.00" fill="#000"/>
<rect x="33.00" y="760.00" width="7.00" height="1.00" fill="#000"/>
<path d="M46.5 708.5 H43.5 V811.5 H46.5" fill="none" stroke="#000" stroke-width="1.00"/>
<path d="M239.5 708.5 H242.5 V811.5 H239.5" fill="none" stroke="#000" stroke-width="1.00"/>
<text class="m" transform="translate(0 729.10) scale(1 0.850)" x="47.30" y="0" fill="#000" font-size="13.75" xml:space="preserve">η</text>
<rect x="58" y="724" width="2" height="2" fill="#000" fill-opacity="0.8"/>
<text class="m" transform="translate(0 729.10) scale(1 0.850)" x="63.27" y="0" fill="#000" font-size="13.75" xml:space="preserve">f</text>
<text class="m" transform="translate(0 736.80) scale(1 0.850)" x="72.21" y="0" fill="#000" font-size="13.75" xml:space="preserve">1</text>
<rect x="82" y="724" width="2" height="2" fill="#000" fill-opacity="0.8"/>
<text class="m" transform="translate(0 729.10) scale(1 0.850)" x="86.61" y="0" fill="#000" font-size="13.75" xml:space="preserve">B</text>
<text class="m" transform="translate(0 736.80) scale(1 0.850)" x="96.11" y="0" fill="#000" font-size="13.75" xml:space="preserve">1</text>
<text class="m" transform="translate(0 720.40) scale(1 0.850)" x="107.90" y="0" fill="#000" font-size="13.75" xml:space="preserve">n</text>
<text class="m" transform="translate(0 729.10) scale(1 0.850)" x="118.52" y="0" fill="#000" font-size="13.75" xml:space="preserve">+</text>
<text class="m" transform="translate(0 729.10) scale(1 0.850)" x="128.63" y="0" fill="#000" font-size="13.75" xml:space="preserve">λ</text>
<rect x="139" y="724" width="2" height="2" fill="#000" fill-opacity="0.8"/>
<text class="m" transform="translate(0 729.10) scale(1 0.850)" x="144.47" y="0" fill="#000" font-size="13.75" xml:space="preserve">f</text>
<text class="m" transform="translate(0 736.80) scale(1 0.850)" x="153.41" y="0" fill="#000" font-size="13.75" xml:space="preserve">1</text>
<text class="m" transform="translate(0 720.40) scale(1 0.850)" x="165.23" y="0" fill="#000" font-size="13.75" xml:space="preserve">2</text>
<rect x="175" y="724" width="2" height="2" fill="#000" fill-opacity="0.8"/>
<text class="m" transform="translate(0 729.10) scale(1 0.850)" x="178.81" y="0" fill="#000" font-size="13.75" xml:space="preserve">B</text>
<text class="m" transform="translate(0 736.80) scale(1 0.850)" x="188.71" y="0" fill="#000" font-size="13.75" xml:space="preserve">1</text>
<text class="m" transform="translate(0 720.40) scale(1 0.850)" x="201.03" y="0" fill="#000" font-size="13.75" xml:space="preserve">2</text>
<text class="m" transform="translate(0 729.10) scale(1 0.850)" x="211.11" y="0" fill="#000" font-size="13.75" xml:space="preserve">−</text>
<text class="m" transform="translate(0 729.10) scale(1 0.850)" x="220.60" y="0" fill="#000" font-size="13.75" xml:space="preserve">p</text>
<text class="m" transform="translate(0 736.80) scale(1 0.850)" x="231.41" y="0" fill="#000" font-size="13.75" xml:space="preserve">1</text>
<text class="m" transform="translate(0 764.20) scale(1 0.850)" x="47.30" y="0" fill="#000" font-size="13.75" xml:space="preserve">η</text>
<rect x="58" y="759" width="2" height="2" fill="#000" fill-opacity="0.8"/>
<text class="m" transform="translate(0 764.20) scale(1 0.850)" x="63.27" y="0" fill="#000" font-size="13.75" xml:space="preserve">f</text>
<text class="m" transform="translate(0 771.90) scale(1 0.850)" x="72.23" y="0" fill="#000" font-size="13.75" xml:space="preserve">2</text>
<rect x="82" y="759" width="2" height="2" fill="#000" fill-opacity="0.8"/>
<text class="m" transform="translate(0 764.20) scale(1 0.850)" x="86.61" y="0" fill="#000" font-size="13.75" xml:space="preserve">B</text>
<text class="m" transform="translate(0 771.90) scale(1 0.850)" x="96.13" y="0" fill="#000" font-size="13.75" xml:space="preserve">2</text>
<text class="m" transform="translate(0 755.50) scale(1 0.850)" x="107.90" y="0" fill="#000" font-size="13.75" xml:space="preserve">n</text>
<text class="m" transform="translate(0 764.20) scale(1 0.850)" x="118.52" y="0" fill="#000" font-size="13.75" xml:space="preserve">+</text>
<text class="m" transform="translate(0 764.20) scale(1 0.850)" x="128.63" y="0" fill="#000" font-size="13.75" xml:space="preserve">λ</text>
<rect x="139" y="759" width="2" height="2" fill="#000" fill-opacity="0.8"/>
<text class="m" transform="translate(0 764.20) scale(1 0.850)" x="144.47" y="0" fill="#000" font-size="13.75" xml:space="preserve">f</text>
<text class="m" transform="translate(0 771.90) scale(1 0.850)" x="153.43" y="0" fill="#000" font-size="13.75" xml:space="preserve">2</text>
<text class="m" transform="translate(0 755.50) scale(1 0.850)" x="165.23" y="0" fill="#000" font-size="13.75" xml:space="preserve">2</text>
<rect x="175" y="759" width="2" height="2" fill="#000" fill-opacity="0.8"/>
<text class="m" transform="translate(0 764.20) scale(1 0.850)" x="178.81" y="0" fill="#000" font-size="13.75" xml:space="preserve">B</text>
<text class="m" transform="translate(0 771.90) scale(1 0.850)" x="188.73" y="0" fill="#000" font-size="13.75" xml:space="preserve">2</text>
<text class="m" transform="translate(0 755.50) scale(1 0.850)" x="201.03" y="0" fill="#000" font-size="13.75" xml:space="preserve">2</text>
<text class="m" transform="translate(0 764.20) scale(1 0.850)" x="211.11" y="0" fill="#000" font-size="13.75" xml:space="preserve">−</text>
<text class="m" transform="translate(0 764.20) scale(1 0.850)" x="220.60" y="0" fill="#000" font-size="13.75" xml:space="preserve">p</text>
<text class="m" transform="translate(0 771.90) scale(1 0.850)" x="231.43" y="0" fill="#000" font-size="13.75" xml:space="preserve">2</text>
<text class="m" transform="translate(0 799.30) scale(1 0.850)" x="47.30" y="0" fill="#000" font-size="13.75" xml:space="preserve">η</text>
<rect x="58" y="794" width="2" height="2" fill="#000" fill-opacity="0.8"/>
<text class="m" transform="translate(0 799.30) scale(1 0.850)" x="63.27" y="0" fill="#000" font-size="13.75" xml:space="preserve">f</text>
<text class="m" transform="translate(0 807.00) scale(1 0.850)" x="72.21" y="0" fill="#000" font-size="13.75" xml:space="preserve">1</text>
<rect x="82" y="794" width="2" height="2" fill="#000" fill-opacity="0.8"/>
<text class="m" transform="translate(0 799.30) scale(1 0.850)" x="86.61" y="0" fill="#000" font-size="13.75" xml:space="preserve">B</text>
<text class="m" transform="translate(0 807.00) scale(1 0.850)" x="96.13" y="0" fill="#000" font-size="13.75" xml:space="preserve">2</text>
<text class="m" transform="translate(0 790.60) scale(1 0.850)" x="107.90" y="0" fill="#000" font-size="13.75" xml:space="preserve">n</text>
<text class="m" transform="translate(0 799.30) scale(1 0.850)" x="118.52" y="0" fill="#000" font-size="13.75" xml:space="preserve">+</text>
<text class="m" transform="translate(0 799.30) scale(1 0.850)" x="128.63" y="0" fill="#000" font-size="13.75" xml:space="preserve">λ</text>
<rect x="139" y="794" width="2" height="2" fill="#000" fill-opacity="0.8"/>
<text class="m" transform="translate(0 799.30) scale(1 0.850)" x="144.47" y="0" fill="#000" font-size="13.75" xml:space="preserve">f</text>
<text class="m" transform="translate(0 807.00) scale(1 0.850)" x="153.41" y="0" fill="#000" font-size="13.75" xml:space="preserve">1</text>
<text class="m" transform="translate(0 790.60) scale(1 0.850)" x="165.23" y="0" fill="#000" font-size="13.75" xml:space="preserve">2</text>
<rect x="175" y="794" width="2" height="2" fill="#000" fill-opacity="0.8"/>
<text class="m" transform="translate(0 799.30) scale(1 0.850)" x="178.81" y="0" fill="#000" font-size="13.75" xml:space="preserve">B</text>
<text class="m" transform="translate(0 807.00) scale(1 0.850)" x="188.73" y="0" fill="#000" font-size="13.75" xml:space="preserve">2</text>
<text class="m" transform="translate(0 790.60) scale(1 0.850)" x="201.03" y="0" fill="#000" font-size="13.75" xml:space="preserve">2</text>
<text class="m" transform="translate(0 799.30) scale(1 0.850)" x="211.11" y="0" fill="#000" font-size="13.75" xml:space="preserve">−</text>
<text class="m" transform="translate(0 799.30) scale(1 0.850)" x="220.60" y="0" fill="#000" font-size="13.75" xml:space="preserve">p</text>
<text class="m" transform="translate(0 807.00) scale(1 0.850)" x="231.54" y="0" fill="#000" font-size="13.75" xml:space="preserve">3</text>
<text class="m" transform="translate(0 728.80) scale(1 0.850)" x="253.28 261.58 269.88" y="0" fill="#000" font-size="13.75" xml:space="preserve">sol</text>
<rect x="280.00" y="723.00" width="1.20" height="2.00" fill="#000"/>
<rect x="280.00" y="726.00" width="1.20" height="2.00" fill="#000"/>
<rect x="282.00" y="724.00" width="7.00" height="1.00" fill="#000"/>
<rect x="282.00" y="726.00" width="7.00" height="1.00" fill="#000"/>
<text class="m" transform="translate(0 728.80) scale(1 0.850)" x="293.30 301.60 309.90 318.20 326.50 334.80 343.10 351.40" y="0" fill="#000" font-size="13.75" xml:space="preserve">FindRoot</text>
<path d="M365.7 700.4 Q363.7 701.6 363.5 704.4 V748.4 Q363.7 751.2 365.7 752.4" fill="none" stroke="#000" stroke-width="1.10"/>
<path d="M450.3 700.4 Q452.3 701.6 452.5 704.4 V748.4 Q452.3 751.2 450.3 752.4" fill="none" stroke="#000" stroke-width="1.10"/>
<text class="m" transform="translate(0 729.20) scale(1 0.850)" x="367.10" y="0" fill="#000" font-size="13.75" xml:space="preserve">F</text>
<rect x="378.00" y="723.00" width="7.00" height="2.00" fill="#000"/>
<rect x="378.00" y="726.00" width="7.00" height="2.00" fill="#000"/>
<ellipse cx="392.69" cy="725.30" rx="2.45" ry="3.45" fill="none" stroke="#000" stroke-width="1.00"/>
<text class="m" transform="translate(0 729.20) scale(1 0.850)" x="399.94" y="0" fill="#000" font-size="13.75" xml:space="preserve">;</text>
<path d="M415.5 701.5 H412.5 V752.5 H415.5" fill="none" stroke="#000" stroke-width="1.00"/>
<path d="M445.5 701.5 H448.5 V752.5 H445.5" fill="none" stroke="#000" stroke-width="1.00"/>
<text class="m" transform="translate(0 711.60) scale(1 0.850)" x="416.50" y="0" fill="#000" font-size="13.75" xml:space="preserve">n</text>
<rect x="427.00" y="706.00" width="7.00" height="2.00" fill="#000"/>
<rect x="427.00" y="709.00" width="7.00" height="2.00" fill="#000"/>
<text class="m" transform="translate(0 711.60) scale(1 0.850)" x="438.01" y="0" fill="#000" font-size="13.75" xml:space="preserve">1</text>
<text class="m" transform="translate(0 728.80) scale(1 0.850)" x="416.50" y="0" fill="#000" font-size="13.75" xml:space="preserve">η</text>
<rect x="427.00" y="723.00" width="7.00" height="2.00" fill="#000"/>
<rect x="427.00" y="726.00" width="7.00" height="2.00" fill="#000"/>
<text class="m" transform="translate(0 728.80) scale(1 0.850)" x="438.01" y="0" fill="#000" font-size="13.75" xml:space="preserve">1</text>
<text class="m" transform="translate(0 745.80) scale(1 0.850)" x="416.93" y="0" fill="#000" font-size="13.75" xml:space="preserve">λ</text>
<rect x="427.00" y="740.00" width="7.00" height="2.00" fill="#000"/>
<rect x="427.00" y="743.00" width="7.00" height="2.00" fill="#000"/>
<text class="m" transform="translate(0 745.80) scale(1 0.850)" x="438.01" y="0" fill="#000" font-size="13.75" xml:space="preserve">1</text>
<path d="M392.5 762.6 Q390.5 763.8 390.5 766.6 V785.9 Q390.5 787.9 388.5 788.4 Q390.5 788.9 390.5 790.9 V810.1 Q390.5 812.9 392.5 814.1" fill="none" stroke="#000" stroke-width="1.10"/>
<text class="m" transform="translate(0 773.60) scale(1 0.850)" x="395.80" y="0" fill="#000" font-size="13.75" xml:space="preserve">n</text>
<text class="m" transform="translate(0 791.60) scale(1 0.850)" x="395.80" y="0" fill="#000" font-size="13.75" xml:space="preserve">η</text>
<text class="m" transform="translate(0 809.50) scale(1 0.850)" x="396.23" y="0" fill="#000" font-size="13.75" xml:space="preserve">λ</text>
<rect x="412.00" y="787.00" width="7.00" height="1.00" fill="#000"/>
<rect x="412.00" y="790.00" width="7.00" height="1.00" fill="#000"/>
<path d="M426.5 762.6 Q424.5 763.8 424.5 766.6 V785.9 Q424.5 787.9 422.5 788.4 Q424.5 788.9 424.5 790.9 V810.1 Q424.5 812.9 426.5 814.1" fill="none" stroke="#000" stroke-width="1.10"/>
<text class="m" transform="translate(0 773.60) scale(1 0.850)" x="429.94 438.24 446.54 454.84 463.14 471.44 479.74 488.04" y="0" fill="#000" font-size="13.75" xml:space="preserve">3,369468</text>
<text class="m" transform="translate(0 791.60) scale(1 0.850)" x="429.81 438.11 446.41 454.71 463.01 471.31 479.61 487.91 496.21 504.51 512.81" y="0" fill="#000" font-size="13.75" xml:space="preserve">1  4,584487</text>
<ellipse cx="442.23" cy="787.70" rx="2.45" ry="3.45" fill="none" stroke="#000" stroke-width="1.00"/>
<ellipse cx="450.53" cy="787.70" rx="2.45" ry="3.45" fill="none" stroke="#000" stroke-width="1.00"/>
<text class="m" transform="translate(0 809.50) scale(1 0.850)" x="429.97 438.27 446.57 454.87 463.17 471.47 479.77 488.07" y="0" fill="#000" font-size="13.75" xml:space="preserve"> ,459333</text>
<ellipse cx="434.09" cy="805.60" rx="2.45" ry="3.45" fill="none" stroke="#000" stroke-width="1.00"/>
<text class="m" transform="translate(0 737.80) scale(1 0.850)" x="577.28 585.58 593.88" y="0" fill="#000" font-size="13.75" xml:space="preserve">sol</text>
<rect x="605.00" y="733.00" width="7.00" height="1.00" fill="#000"/>
<rect x="605.00" y="736.00" width="7.00" height="1.00" fill="#000"/>
<path d="M618.5 708.5 H615.5 V759.5 H618.5" fill="none" stroke="#000" stroke-width="1.00"/>
<path d="M711.5 708.5 H714.5 V759.5 H711.5" fill="none" stroke="#000" stroke-width="1.00"/>
<text class="m" transform="translate(0 720.00) scale(1 0.850)" x="632.24 640.54 648.84 657.14 665.44 673.74 682.04 690.34" y="0" fill="#000" font-size="13.75" xml:space="preserve">3,369468</text>
<text class="m" transform="translate(0 737.80) scale(1 0.850)" x="620.11 628.41 636.71 645.01 653.31 661.61 669.91 678.21 686.51 694.81 703.11" y="0" fill="#000" font-size="13.75" xml:space="preserve">1  4,584487</text>
<ellipse cx="632.53" cy="733.90" rx="2.45" ry="3.45" fill="none" stroke="#000" stroke-width="1.00"/>
<ellipse cx="640.83" cy="733.90" rx="2.45" ry="3.45" fill="none" stroke="#000" stroke-width="1.00"/>
<text class="m" transform="translate(0 755.10) scale(1 0.850)" x="632.27 640.57 648.87 657.17 665.47 673.77 682.07 690.37" y="0" fill="#000" font-size="13.75" xml:space="preserve"> ,459333</text>
<ellipse cx="636.39" cy="751.20" rx="2.45" ry="3.45" fill="none" stroke="#000" stroke-width="1.00"/>
<rect x="7.50" y="814.50" width="285.00" height="30.00" fill="#fbfa80" stroke="#000" stroke-width="1.10"/>
<text class="m" transform="translate(0 837.60) scale(1 0.850)" x="9.40" y="0" fill="#202000" font-size="13.75" xml:space="preserve">p</text>
<rect x="21.00" y="832.00" width="1.20" height="2.00" fill="#202000"/>
<rect x="21.00" y="835.00" width="1.20" height="2.00" fill="#202000"/>
<rect x="23.00" y="833.00" width="7.00" height="1.00" fill="#202000"/>
<rect x="23.00" y="835.00" width="7.00" height="1.00" fill="#202000"/>
<path d="M36.7 815.6 Q34.7 816.8 34.5 819.6 V838.9 Q34.7 841.7 36.7 842.9" fill="none" stroke="#000" stroke-width="1.10"/>
<text class="m" transform="translate(0 837.60) scale(1 0.850)" x="37.00" y="0" fill="#202000" font-size="13.75" xml:space="preserve">η</text>
<rect x="47" y="833" width="2" height="2" fill="#202000" fill-opacity="0.8"/>
<text class="m" transform="translate(0 837.60) scale(1 0.850)" x="53.07" y="0" fill="#202000" font-size="13.75" xml:space="preserve">f</text>
<rect x="62" y="833" width="2" height="2" fill="#202000" fill-opacity="0.8"/>
<path d="M69.7 817.3 Q67.7 818.5 67.5 821.3 V837.6 Q67.7 840.4 69.7 841.6" fill="none" stroke="#000" stroke-width="1.10"/>
<text class="m" transform="translate(0 837.60) scale(1 0.850)" x="71.31" y="0" fill="#202000" font-size="13.75" xml:space="preserve">B</text>
<text class="m" transform="translate(0 828.90) scale(1 0.850)" x="83.00" y="0" fill="#202000" font-size="13.75" xml:space="preserve">n</text>
<path d="M91.3 817.3 Q93.3 818.5 93.5 821.3 V837.6 Q93.3 840.4 91.3 841.6" fill="none" stroke="#000" stroke-width="1.10"/>
<text class="m" transform="translate(0 837.60) scale(1 0.850)" x="99.22" y="0" fill="#202000" font-size="13.75" xml:space="preserve">+</text>
<text class="m" transform="translate(0 837.60) scale(1 0.850)" x="108.43" y="0" fill="#202000" font-size="13.75" xml:space="preserve">λ</text>
<rect x="118" y="833" width="2" height="2" fill="#202000" fill-opacity="0.8"/>
<text class="m" transform="translate(0 837.60) scale(1 0.850)" x="123.47" y="0" fill="#202000" font-size="13.75" xml:space="preserve">f</text>
<text class="m" transform="translate(0 828.90) scale(1 0.850)" x="135.73" y="0" fill="#202000" font-size="13.75" xml:space="preserve">2</text>
<rect x="145" y="833" width="2" height="2" fill="#202000" fill-opacity="0.8"/>
<path d="M152.7 817.8 Q150.7 819.0 150.5 821.8 V837.6 Q150.7 840.4 152.7 841.6" fill="none" stroke="#000" stroke-width="1.10"/>
<text class="m" transform="translate(0 837.60) scale(1 0.850)" x="154.31" y="0" fill="#202000" font-size="13.75" xml:space="preserve">B</text>
<text class="m" transform="translate(0 828.90) scale(1 0.850)" x="166.03" y="0" fill="#202000" font-size="13.75" xml:space="preserve">2</text>
<path d="M173.3 817.8 Q175.3 819.0 175.5 821.8 V837.6 Q175.3 840.4 173.3 841.6" fill="none" stroke="#000" stroke-width="1.10"/>
<path d="M177.3 815.6 Q179.3 816.8 179.5 819.6 V838.9 Q179.3 841.7 177.3 842.9" fill="none" stroke="#000" stroke-width="1.10"/>
<rect x="185.00" y="833.00" width="7.00" height="1.00" fill="#202000"/>
<rect x="185.00" y="836.00" width="7.00" height="1.00" fill="#202000"/>
<text class="m" transform="translate(0 837.60) scale(1 0.850)" x="195.81 204.11 212.41 220.71 229.01 237.31 245.61 253.91 262.21 270.51" y="0" fill="#202000" font-size="13.75" xml:space="preserve">122,342 19</text>
<ellipse cx="258.03" cy="833.70" rx="2.45" ry="3.45" fill="none" stroke="#202000" stroke-width="1.00"/>
<ellipse cx="238.0" cy="834.1" rx="45.2" ry="12.4" fill="none" stroke="#b82830" stroke-width="2"/>
<text class="s" x="313.50" y="834.60" fill="#b82838" font-size="17.00">???!!!</text>
</svg></body></html>
